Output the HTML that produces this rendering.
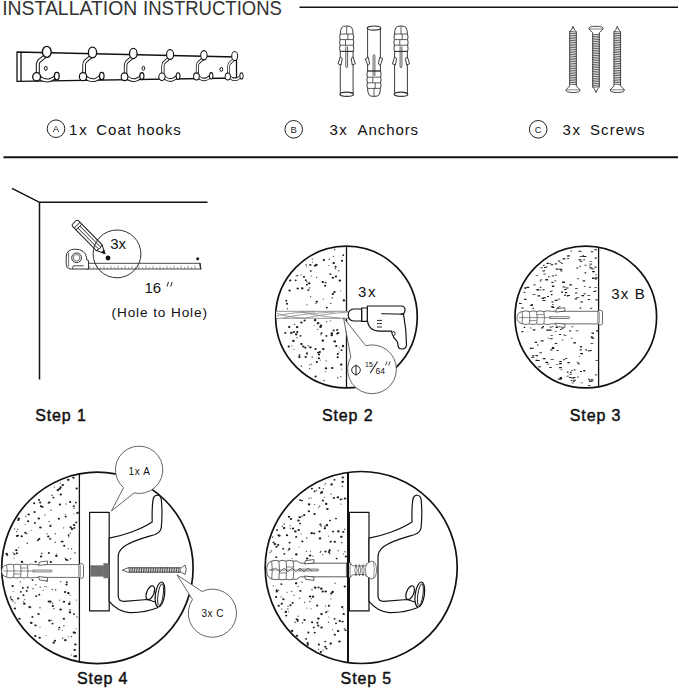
<!DOCTYPE html>
<html><head><meta charset="utf-8"><title>Installation Instructions</title>
<style>html,body{margin:0;padding:0;background:#fff;width:679px;height:689px;overflow:hidden}svg{display:block}text{font-family:"Liberation Sans",sans-serif}</style>
</head><body>
<svg width="679" height="689" viewBox="0 0 679 689">
<text x="2.2" y="14.6" font-size="19.3" fill="#333" textLength="135.1" lengthAdjust="spacingAndGlyphs">INSTALLATION</text>
<text x="143.1" y="14.6" font-size="19.3" fill="#333" textLength="138.8" lengthAdjust="spacingAndGlyphs">INSTRUCTIONS</text>
<line x1="299.5" y1="7.2" x2="678" y2="7.2" stroke="#111" stroke-width="1.5"/>
<line x1="3.5" y1="157.2" x2="678" y2="157.2" stroke="#111" stroke-width="1.9"/>
<circle cx="56" cy="128.7" r="8.8" fill="none" stroke="#222" stroke-width="1"/>
<text x="56" y="132.1" font-size="9.5" text-anchor="middle" fill="#222">A</text>
<circle cx="293.7" cy="129.3" r="8.8" fill="none" stroke="#222" stroke-width="1"/>
<text x="293.7" y="132.70000000000002" font-size="9.5" text-anchor="middle" fill="#222">B</text>
<circle cx="538.2" cy="129.3" r="8.8" fill="none" stroke="#222" stroke-width="1"/>
<text x="538.2" y="132.70000000000002" font-size="9.5" text-anchor="middle" fill="#222">C</text>
<text x="69" y="134.7" font-size="15" fill="#111" textLength="17.8" lengthAdjust="spacing">1x</text>
<text x="96.3" y="134.7" font-size="15" fill="#111" textLength="84.5" lengthAdjust="spacing">Coat hooks</text>
<text x="329.5" y="134.7" font-size="15" fill="#111" textLength="17.3" lengthAdjust="spacing">3x</text>
<text x="357.6" y="134.7" font-size="15" fill="#111" textLength="60.5" lengthAdjust="spacing">Anchors</text>
<text x="562.4" y="134.7" font-size="15" fill="#111" textLength="17.6" lengthAdjust="spacing">3x</text>
<text x="590" y="134.7" font-size="15" fill="#111" textLength="54.5" lengthAdjust="spacing">Screws</text>
<g fill="#fff" stroke="#111" stroke-width="1.3" stroke-linejoin="round">
<path d="M17 52 L236.5 57 L236.5 78 L17 81.3 Z"/>
<line x1="21" y1="52.1" x2="21" y2="81.2"/>
<ellipse cx="45.8" cy="68.4" rx="1.4" ry="2" stroke-width="1"/>
<ellipse cx="143.4" cy="68.3" rx="1.4" ry="2" stroke-width="1"/>
<ellipse cx="221.3" cy="69.4" rx="1.4" ry="2" stroke-width="1"/>
<g transform="translate(46.8,51.6) scale(1.0,1.0)">
<path d="M-1.5 4.5 L-7.6 9.3 C-8.6 10.3 -9 12 -9 14 L-9 22 C-8 28 -1 29.5 3 28.5 C6 27.5 8 26 9.5 24.5" fill="none" stroke="#111" stroke-width="4.0" stroke-linejoin="round"/>
<path d="M-1.5 4.5 L-7.6 9.3 C-8.6 10.3 -9 12 -9 14 L-9 22 C-8 28 -1 29.5 3 28.5 C6 27.5 8 26 9.5 24.5" fill="none" stroke="#fff" stroke-width="2.0" stroke-linejoin="round"/>
<ellipse cx="-10.2" cy="25.2" rx="3.9" ry="4.2" stroke-width="1.3"/>
<ellipse cx="10" cy="24.5" rx="2.4" ry="3.8" stroke-width="1.3"/>
<ellipse cx="0" cy="0.3" rx="4.4" ry="5.5" stroke-width="1.4"/>
</g>
<g transform="translate(92.5,52.2) scale(0.93,0.97)">
<path d="M-1.5 4.5 L-7.6 9.3 C-8.6 10.3 -9 12 -9 14 L-9 22 C-8 28 -1 29.5 3 28.5 C6 27.5 8 26 9.5 24.5" fill="none" stroke="#111" stroke-width="4.0" stroke-linejoin="round"/>
<path d="M-1.5 4.5 L-7.6 9.3 C-8.6 10.3 -9 12 -9 14 L-9 22 C-8 28 -1 29.5 3 28.5 C6 27.5 8 26 9.5 24.5" fill="none" stroke="#fff" stroke-width="2.0" stroke-linejoin="round"/>
<ellipse cx="-10.2" cy="25.2" rx="3.9" ry="4.2" stroke-width="1.3"/>
<ellipse cx="10" cy="24.5" rx="2.4" ry="3.8" stroke-width="1.3"/>
<ellipse cx="0" cy="0.3" rx="4.4" ry="5.5" stroke-width="1.4"/>
</g>
<g transform="translate(133.3,53.3) scale(0.86,0.93)">
<path d="M-1.5 4.5 L-7.6 9.3 C-8.6 10.3 -9 12 -9 14 L-9 22 C-8 28 -1 29.5 3 28.5 C6 27.5 8 26 9.5 24.5" fill="none" stroke="#111" stroke-width="4.0" stroke-linejoin="round"/>
<path d="M-1.5 4.5 L-7.6 9.3 C-8.6 10.3 -9 12 -9 14 L-9 22 C-8 28 -1 29.5 3 28.5 C6 27.5 8 26 9.5 24.5" fill="none" stroke="#fff" stroke-width="2.0" stroke-linejoin="round"/>
<ellipse cx="-10.2" cy="25.2" rx="3.9" ry="4.2" stroke-width="1.3"/>
<ellipse cx="10" cy="24.5" rx="2.4" ry="3.8" stroke-width="1.3"/>
<ellipse cx="0" cy="0.3" rx="4.4" ry="5.5" stroke-width="1.4"/>
</g>
<g transform="translate(170.1,54.3) scale(0.8,0.89)">
<path d="M-1.5 4.5 L-7.6 9.3 C-8.6 10.3 -9 12 -9 14 L-9 22 C-8 28 -1 29.5 3 28.5 C6 27.5 8 26 9.5 24.5" fill="none" stroke="#111" stroke-width="4.0" stroke-linejoin="round"/>
<path d="M-1.5 4.5 L-7.6 9.3 C-8.6 10.3 -9 12 -9 14 L-9 22 C-8 28 -1 29.5 3 28.5 C6 27.5 8 26 9.5 24.5" fill="none" stroke="#fff" stroke-width="2.0" stroke-linejoin="round"/>
<ellipse cx="-10.2" cy="25.2" rx="3.9" ry="4.2" stroke-width="1.3"/>
<ellipse cx="10" cy="24.5" rx="2.4" ry="3.8" stroke-width="1.3"/>
<ellipse cx="0" cy="0.3" rx="4.4" ry="5.5" stroke-width="1.4"/>
</g>
<g transform="translate(203.9,55.0) scale(0.73,0.85)">
<path d="M-1.5 4.5 L-7.6 9.3 C-8.6 10.3 -9 12 -9 14 L-9 22 C-8 28 -1 29.5 3 28.5 C6 27.5 8 26 9.5 24.5" fill="none" stroke="#111" stroke-width="4.0" stroke-linejoin="round"/>
<path d="M-1.5 4.5 L-7.6 9.3 C-8.6 10.3 -9 12 -9 14 L-9 22 C-8 28 -1 29.5 3 28.5 C6 27.5 8 26 9.5 24.5" fill="none" stroke="#fff" stroke-width="2.0" stroke-linejoin="round"/>
<ellipse cx="-10.2" cy="25.2" rx="3.9" ry="4.2" stroke-width="1.3"/>
<ellipse cx="10" cy="24.5" rx="2.4" ry="3.8" stroke-width="1.3"/>
<ellipse cx="0" cy="0.3" rx="4.4" ry="5.5" stroke-width="1.4"/>
</g>
<g transform="translate(234.7,55.8) scale(0.68,0.82)">
<path d="M-1.5 4.5 L-7.6 9.3 C-8.6 10.3 -9 12 -9 14 L-9 22 C-8 28 -1 29.5 3 28.5 C6 27.5 8 26 9.5 24.5" fill="none" stroke="#111" stroke-width="4.0" stroke-linejoin="round"/>
<path d="M-1.5 4.5 L-7.6 9.3 C-8.6 10.3 -9 12 -9 14 L-9 22 C-8 28 -1 29.5 3 28.5 C6 27.5 8 26 9.5 24.5" fill="none" stroke="#fff" stroke-width="2.0" stroke-linejoin="round"/>
<ellipse cx="-10.2" cy="25.2" rx="3.9" ry="4.2" stroke-width="1.3"/>
<ellipse cx="10" cy="24.5" rx="2.4" ry="3.8" stroke-width="1.3"/>
<ellipse cx="0" cy="0.3" rx="4.4" ry="5.5" stroke-width="1.4"/>
</g>
</g>
<g transform="translate(346.7,0)" fill="#fff" stroke="#333" stroke-width="0.95" stroke-linejoin="round">
<path d="M-6.4 51 L-6.4 93.5 M6.4 51 L6.4 93.5" fill="none"/>
<ellipse cx="0" cy="94.3" rx="6.8" ry="2.1" stroke-width="1.2"/>
<path d="M-6.5 51.5 Q-7.6 48.3 -6.6 45.2 Q-7.6 42.4 -6.6 39.6 Q-7.6 36.8 -6.4 34 Q-6.4 30 -5 27.5 Q-4 26 0 26 Q4 26 5 27.5 Q6.4 30 6.4 34 Q7.6 36.8 6.6 39.6 Q7.6 42.4 6.6 45.2 Q7.6 48.3 6.5 51.5 Z"/>
<path d="M-6.3 34 L6.3 34 M-6.6 39.6 L6.6 39.6 M-6.6 45.2 L6.6 45.2 M-6.5 51.3 L6.5 51.3 M0 26.3 L0 34 M-1.2 39.6 L-1.2 45.2 M1.2 34 L1.2 39.6" fill="none" stroke-width="0.8"/>
<path d="M-6.4 57 L-8.6 63.8 L-5.6 65 L-4.4 58.4 Z M6.4 57 L8.6 63.8 L5.6 65 L4.4 58.4 Z"/>
<path d="M-0.9 46.4 L-0.9 67 Q0 68.6 0.9 67 L0.9 46.4" fill="none" stroke-width="0.8"/>
</g>
<g transform="translate(374,122.4) scale(1,-1)" fill="#fff" stroke="#333" stroke-width="0.95" stroke-linejoin="round">
<path d="M-6.4 51 L-6.4 93.5 M6.4 51 L6.4 93.5" fill="none"/>
<ellipse cx="0" cy="94.3" rx="6.8" ry="2.1" stroke-width="1.2"/>
<path d="M-6.5 51.5 Q-7.6 48.3 -6.6 45.2 Q-7.6 42.4 -6.6 39.6 Q-7.6 36.8 -6.4 34 Q-6.4 30 -5 27.5 Q-4 26 0 26 Q4 26 5 27.5 Q6.4 30 6.4 34 Q7.6 36.8 6.6 39.6 Q7.6 42.4 6.6 45.2 Q7.6 48.3 6.5 51.5 Z"/>
<path d="M-6.3 34 L6.3 34 M-6.6 39.6 L6.6 39.6 M-6.6 45.2 L6.6 45.2 M-6.5 51.3 L6.5 51.3 M0 26.3 L0 34 M-1.2 39.6 L-1.2 45.2 M1.2 34 L1.2 39.6" fill="none" stroke-width="0.8"/>
<path d="M-6.4 57 L-8.6 63.8 L-5.6 65 L-4.4 58.4 Z M6.4 57 L8.6 63.8 L5.6 65 L4.4 58.4 Z"/>
<path d="M-0.9 46.4 L-0.9 67 Q0 68.6 0.9 67 L0.9 46.4" fill="none" stroke-width="0.8"/>
</g>
<g transform="translate(401,0)" fill="#fff" stroke="#333" stroke-width="0.95" stroke-linejoin="round">
<path d="M-6.4 51 L-6.4 93.5 M6.4 51 L6.4 93.5" fill="none"/>
<ellipse cx="0" cy="94.3" rx="6.8" ry="2.1" stroke-width="1.2"/>
<path d="M-6.5 51.5 Q-7.6 48.3 -6.6 45.2 Q-7.6 42.4 -6.6 39.6 Q-7.6 36.8 -6.4 34 Q-6.4 30 -5 27.5 Q-4 26 0 26 Q4 26 5 27.5 Q6.4 30 6.4 34 Q7.6 36.8 6.6 39.6 Q7.6 42.4 6.6 45.2 Q7.6 48.3 6.5 51.5 Z"/>
<path d="M-6.3 34 L6.3 34 M-6.6 39.6 L6.6 39.6 M-6.6 45.2 L6.6 45.2 M-6.5 51.3 L6.5 51.3 M0 26.3 L0 34 M-1.2 39.6 L-1.2 45.2 M1.2 34 L1.2 39.6" fill="none" stroke-width="0.8"/>
<path d="M-6.4 57 L-8.6 63.8 L-5.6 65 L-4.4 58.4 Z M6.4 57 L8.6 63.8 L5.6 65 L4.4 58.4 Z"/>
<path d="M-0.9 46.4 L-0.9 67 Q0 68.6 0.9 67 L0.9 46.4" fill="none" stroke-width="0.8"/>
</g>
<g transform="translate(573,0)" fill="#fff" stroke="#333" stroke-width="0.9">
<path d="M0 26.3 L-1.6 30 L-3.3 31.5 L-3.3 86 L-7 89.8 Q-7.5 92.5 0 92.5 Q7.5 92.5 7 89.8 L3.3 86 L3.3 31.5 L1.6 30 Z"/>
<path d="M-3.6 31.5 L3.6 32.1 M-3.6 33.2 L3.6 33.9 M-3.6 35.0 L3.6 35.6 M-3.6 36.8 L3.6 37.4 M-3.6 38.5 L3.6 39.1 M-3.6 40.2 L3.6 40.9 M-3.6 42.0 L3.6 42.6 M-3.6 43.8 L3.6 44.4 M-3.6 45.5 L3.6 46.1 M-3.6 47.2 L3.6 47.9 M-3.6 49.0 L3.6 49.6 M-3.6 50.8 L3.6 51.4 M-3.6 52.5 L3.6 53.1 M-3.6 54.2 L3.6 54.9 M-3.6 56.0 L3.6 56.6 M-3.6 57.8 L3.6 58.4 M-3.6 59.5 L3.6 60.1 M-3.6 61.2 L3.6 61.9 M-3.6 63.0 L3.6 63.6 M-3.6 64.8 L3.6 65.3 M-3.6 66.5 L3.6 67.1 M-3.6 68.2 L3.6 68.8 M-3.6 70.0 L3.6 70.6 M-3.6 71.8 L3.6 72.3 M-3.6 73.5 L3.6 74.1 M-3.6 75.2 L3.6 75.8 M-3.6 77.0 L3.6 77.6 M-3.6 78.8 L3.6 79.3 M-3.6 80.5 L3.6 81.1 M-3.6 82.2 L3.6 82.8 M-3.6 84.0 L3.6 84.6 " stroke-width="0.8"/>
<path d="M-7 89.8 L7 89.8" stroke-width="0.6"/>
</g>
<g transform="translate(596,118.8) scale(1,-1)" fill="#fff" stroke="#333" stroke-width="0.9">
<path d="M0 26.3 L-1.6 30 L-3.3 31.5 L-3.3 86 L-7 89.8 Q-7.5 92.5 0 92.5 Q7.5 92.5 7 89.8 L3.3 86 L3.3 31.5 L1.6 30 Z"/>
<path d="M-3.6 31.5 L3.6 32.1 M-3.6 33.2 L3.6 33.9 M-3.6 35.0 L3.6 35.6 M-3.6 36.8 L3.6 37.4 M-3.6 38.5 L3.6 39.1 M-3.6 40.2 L3.6 40.9 M-3.6 42.0 L3.6 42.6 M-3.6 43.8 L3.6 44.4 M-3.6 45.5 L3.6 46.1 M-3.6 47.2 L3.6 47.9 M-3.6 49.0 L3.6 49.6 M-3.6 50.8 L3.6 51.4 M-3.6 52.5 L3.6 53.1 M-3.6 54.2 L3.6 54.9 M-3.6 56.0 L3.6 56.6 M-3.6 57.8 L3.6 58.4 M-3.6 59.5 L3.6 60.1 M-3.6 61.2 L3.6 61.9 M-3.6 63.0 L3.6 63.6 M-3.6 64.8 L3.6 65.3 M-3.6 66.5 L3.6 67.1 M-3.6 68.2 L3.6 68.8 M-3.6 70.0 L3.6 70.6 M-3.6 71.8 L3.6 72.3 M-3.6 73.5 L3.6 74.1 M-3.6 75.2 L3.6 75.8 M-3.6 77.0 L3.6 77.6 M-3.6 78.8 L3.6 79.3 M-3.6 80.5 L3.6 81.1 M-3.6 82.2 L3.6 82.8 M-3.6 84.0 L3.6 84.6 " stroke-width="0.8"/>
<path d="M-7 89.8 L7 89.8" stroke-width="0.6"/>
</g>
<g transform="translate(617.3,0)" fill="#fff" stroke="#333" stroke-width="0.9">
<path d="M0 26.3 L-1.6 30 L-3.3 31.5 L-3.3 86 L-7 89.8 Q-7.5 92.5 0 92.5 Q7.5 92.5 7 89.8 L3.3 86 L3.3 31.5 L1.6 30 Z"/>
<path d="M-3.6 31.5 L3.6 32.1 M-3.6 33.2 L3.6 33.9 M-3.6 35.0 L3.6 35.6 M-3.6 36.8 L3.6 37.4 M-3.6 38.5 L3.6 39.1 M-3.6 40.2 L3.6 40.9 M-3.6 42.0 L3.6 42.6 M-3.6 43.8 L3.6 44.4 M-3.6 45.5 L3.6 46.1 M-3.6 47.2 L3.6 47.9 M-3.6 49.0 L3.6 49.6 M-3.6 50.8 L3.6 51.4 M-3.6 52.5 L3.6 53.1 M-3.6 54.2 L3.6 54.9 M-3.6 56.0 L3.6 56.6 M-3.6 57.8 L3.6 58.4 M-3.6 59.5 L3.6 60.1 M-3.6 61.2 L3.6 61.9 M-3.6 63.0 L3.6 63.6 M-3.6 64.8 L3.6 65.3 M-3.6 66.5 L3.6 67.1 M-3.6 68.2 L3.6 68.8 M-3.6 70.0 L3.6 70.6 M-3.6 71.8 L3.6 72.3 M-3.6 73.5 L3.6 74.1 M-3.6 75.2 L3.6 75.8 M-3.6 77.0 L3.6 77.6 M-3.6 78.8 L3.6 79.3 M-3.6 80.5 L3.6 81.1 M-3.6 82.2 L3.6 82.8 M-3.6 84.0 L3.6 84.6 " stroke-width="0.8"/>
<path d="M-7 89.8 L7 89.8" stroke-width="0.6"/>
</g>
<g fill="none" stroke="#111" stroke-width="1.5">
<path d="M12 188.3 L39.5 202.3 L207.5 202.3 M39.5 202.3 L39.5 379.5"/>
</g>
<g stroke="#333" stroke-width="0.8" fill="#fff">
<path d="M86 263.3 L200 263.3 L200.5 269 L86 269" stroke-width="0.9"/>
<path d="M90.0 269 v-3.3 M93.5 269 v-2.0 M97.0 269 v-3.3 M100.5 269 v-2.0 M104.0 269 v-3.3 M107.5 269 v-2.0 M111.0 269 v-3.3 M114.5 269 v-2.0 M118.0 269 v-3.3 M121.5 269 v-2.0 M125.0 269 v-3.3 M128.5 269 v-2.0 M132.0 269 v-3.3 M135.5 269 v-2.0 M139.0 269 v-3.3 M142.5 269 v-2.0 M146.0 269 v-3.3 M149.5 269 v-2.0 M153.0 269 v-3.3 M156.5 269 v-2.0 M160.0 269 v-3.3 M163.5 269 v-2.0 M167.0 269 v-3.3 M170.5 269 v-2.0 M174.0 269 v-3.3 M177.5 269 v-2.0 M181.0 269 v-3.3 M184.5 269 v-2.0 M188.0 269 v-3.3 M191.5 269 v-2.0 M195.0 269 v-3.3 " stroke-width="0.6" stroke="#666"/>
<path d="M200 263 L200.8 269.5" stroke-width="1.4"/>
<path d="M66.2 257 Q66.2 249.2 75 249.2 Q85.5 249.2 86.7 258 L86.7 260 L88.5 260.5 L88.5 269 L70 269 Q66.2 268.5 66.2 264 Z" stroke-width="1"/>
<path d="M68.6 252.5 L68.6 266.5" stroke-width="0.7" fill="none"/>
<circle cx="76.6" cy="257.8" r="4.9" stroke-width="1"/>
<circle cx="76.6" cy="257.8" r="3.3" stroke-width="0.7"/>
<path d="M83.6 265.8 L74 265.8 Q72.6 265.8 72.6 267.5 L72.6 269" stroke-width="0.9" fill="none"/>
</g>
<g transform="translate(104.8,253.4) rotate(-134.5)" stroke="#1a1a1a" stroke-width="1" fill="#fff">
<path d="M0 0 L8 -4.1 L41.5 -4.1 Q43.5 -4.1 43.5 -2.3 L43.5 2.3 Q43.5 4.1 41.5 4.1 L8 4.1 Z"/>
<path d="M8 -4.1 Q6 0 8 4.1 M37 -4.1 L37 4.1 M39.5 -4.1 L39.5 4.1 M8 -1.4 L37 -1.4 M8 1.4 L37 1.4" fill="none" stroke-width="0.9"/>
<path d="M0 0 L2.8 -1.5 L2.8 1.5 Z" fill="#1a1a1a"/>
</g>
<circle cx="117" cy="253.9" r="23.9" fill="none" stroke="#333" stroke-width="1"/>
<circle cx="108" cy="258" r="2.4" fill="#111"/>
<circle cx="197.7" cy="258.7" r="1.5" fill="#111"/>
<text x="110.2" y="248.7" font-size="15" fill="#111">3x</text>
<text x="144.5" y="293" font-size="15" fill="#111">16</text>
<path d="M168.5 282 L167 286.5 M172.2 282 L170.7 286.5" stroke="#222" stroke-width="1"/>
<text x="111.5" y="317.4" font-size="13.6" fill="#111" textLength="95.5" lengthAdjust="spacing">(Hole to Hole)</text>
<path d="M296.2 332.0a1.1 0.94 0 1 0 2.2 0a1.1 0.94 0 1 0 -2.2 0M330.9 368.0a1.3 1.10 0 1 0 2.6 0a1.3 1.10 0 1 0 -2.6 0M314.5 376.5a1.1 0.94 0 1 0 2.2 0a1.1 0.94 0 1 0 -2.2 0M336.1 333.5a1.2 1.02 0 1 0 2.4 0a1.2 1.02 0 1 0 -2.4 0M341.7 346.2a1.3 1.10 0 1 0 2.6 0a1.3 1.10 0 1 0 -2.6 0M336.6 357.3a1.1 0.94 0 1 0 2.2 0a1.1 0.94 0 1 0 -2.2 0M304.3 347.7a1.1 0.94 0 1 0 2.2 0a1.1 0.94 0 1 0 -2.2 0M340.5 350.2a1.0 0.85 0 1 0 2.0 0a1.0 0.85 0 1 0 -2.0 0M318.6 352.1a1.2 1.02 0 1 0 2.4 0a1.2 1.02 0 1 0 -2.4 0M335.1 346.1a1.2 1.02 0 1 0 2.4 0a1.2 1.02 0 1 0 -2.4 0M315.6 301.8a1.2 1.02 0 1 0 2.4 0a1.2 1.02 0 1 0 -2.4 0M292.8 332.0a1.1 0.94 0 1 0 2.2 0a1.1 0.94 0 1 0 -2.2 0M321.5 282.0a1.3 1.10 0 1 0 2.6 0a1.3 1.10 0 1 0 -2.6 0M324.6 282.5a1.0 0.85 0 1 0 2.0 0a1.0 0.85 0 1 0 -2.0 0M285.3 300.7a1.0 0.85 0 1 0 2.0 0a1.0 0.85 0 1 0 -2.0 0M307.2 290.1a1.1 0.94 0 1 0 2.2 0a1.1 0.94 0 1 0 -2.2 0M325.9 307.6a1.0 0.85 0 1 0 2.0 0a1.0 0.85 0 1 0 -2.0 0M300.1 344.0a1.3 1.10 0 1 0 2.6 0a1.3 1.10 0 1 0 -2.6 0M333.5 341.4a1.3 1.10 0 1 0 2.6 0a1.3 1.10 0 1 0 -2.6 0M337.0 333.1a1.2 1.02 0 1 0 2.4 0a1.2 1.02 0 1 0 -2.4 0M288.0 327.1a1.2 1.02 0 1 0 2.4 0a1.2 1.02 0 1 0 -2.4 0M339.9 364.6a1.3 1.10 0 1 0 2.6 0a1.3 1.10 0 1 0 -2.6 0M315.8 362.0a1.1 0.94 0 1 0 2.2 0a1.1 0.94 0 1 0 -2.2 0M302.0 346.5a1.1 0.94 0 1 0 2.2 0a1.1 0.94 0 1 0 -2.2 0M302.9 276.9a1.1 0.94 0 1 0 2.2 0a1.1 0.94 0 1 0 -2.2 0M284.2 332.9a1.1 0.94 0 1 0 2.2 0a1.1 0.94 0 1 0 -2.2 0M300.2 322.4a1.2 1.02 0 1 0 2.4 0a1.2 1.02 0 1 0 -2.4 0M330.5 335.2a1.3 1.10 0 1 0 2.6 0a1.3 1.10 0 1 0 -2.6 0M313.8 320.2a1.3 1.10 0 1 0 2.6 0a1.3 1.10 0 1 0 -2.6 0M334.7 276.5a1.2 1.02 0 1 0 2.4 0a1.2 1.02 0 1 0 -2.4 0M294.9 334.3a1.3 1.10 0 1 0 2.6 0a1.3 1.10 0 1 0 -2.6 0M336.7 354.0a1.1 0.94 0 1 0 2.2 0a1.1 0.94 0 1 0 -2.2 0M332.6 330.4a1.1 0.94 0 1 0 2.2 0a1.1 0.94 0 1 0 -2.2 0M287.6 346.4a1.2 1.02 0 1 0 2.4 0a1.2 1.02 0 1 0 -2.4 0M305.9 284.7a1.0 0.85 0 1 0 2.0 0a1.0 0.85 0 1 0 -2.0 0M298.4 355.0a1.0 0.85 0 1 0 2.0 0a1.0 0.85 0 1 0 -2.0 0M303.5 320.5a1.1 0.94 0 1 0 2.2 0a1.1 0.94 0 1 0 -2.2 0M309.8 271.0a1.0 0.85 0 1 0 2.0 0a1.0 0.85 0 1 0 -2.0 0M292.1 340.9a1.3 1.10 0 1 0 2.6 0a1.3 1.10 0 1 0 -2.6 0M313.9 265.8a1.1 0.94 0 1 0 2.2 0a1.1 0.94 0 1 0 -2.2 0M331.7 294.0a1.2 1.02 0 1 0 2.4 0a1.2 1.02 0 1 0 -2.4 0M309.2 264.9a1.1 0.94 0 1 0 2.2 0a1.1 0.94 0 1 0 -2.2 0M330.5 333.4a1.3 1.10 0 1 0 2.6 0a1.3 1.10 0 1 0 -2.6 0M300.9 288.3a1.3 1.10 0 1 0 2.6 0a1.3 1.10 0 1 0 -2.6 0M296.5 288.6a1.2 1.02 0 1 0 2.4 0a1.2 1.02 0 1 0 -2.4 0M317.0 352.6a1.0 0.85 0 1 0 2.0 0a1.0 0.85 0 1 0 -2.0 0M342.6 300.4a1.3 1.10 0 1 0 2.6 0a1.3 1.10 0 1 0 -2.6 0M306.0 353.2a1.0 0.85 0 1 0 2.0 0a1.0 0.85 0 1 0 -2.0 0M288.4 290.5a1.2 1.02 0 1 0 2.4 0a1.2 1.02 0 1 0 -2.4 0M315.1 264.9a1.3 1.10 0 1 0 2.6 0a1.3 1.10 0 1 0 -2.6 0M325.4 335.9a1.0 0.85 0 1 0 2.0 0a1.0 0.85 0 1 0 -2.0 0M336.1 329.9a1.1 0.94 0 1 0 2.2 0a1.1 0.94 0 1 0 -2.2 0M319.7 325.7a1.3 1.10 0 1 0 2.6 0a1.3 1.10 0 1 0 -2.6 0M332.4 263.1a1.3 1.10 0 1 0 2.6 0a1.3 1.10 0 1 0 -2.6 0M294.7 280.3a1.0 0.85 0 1 0 2.0 0a1.0 0.85 0 1 0 -2.0 0M316.8 323.2a1.3 1.10 0 1 0 2.6 0a1.3 1.10 0 1 0 -2.6 0M324.0 285.8a1.1 0.94 0 1 0 2.2 0a1.1 0.94 0 1 0 -2.2 0M289.0 280.4a1.2 1.02 0 1 0 2.4 0a1.2 1.02 0 1 0 -2.4 0M340.9 260.7a1.1 0.94 0 1 0 2.2 0a1.1 0.94 0 1 0 -2.2 0M322.7 260.0a1.2 1.02 0 1 0 2.4 0a1.2 1.02 0 1 0 -2.4 0M324.7 368.3a1.3 1.10 0 1 0 2.6 0a1.3 1.10 0 1 0 -2.6 0M304.8 280.2a1.0 0.85 0 1 0 2.0 0a1.0 0.85 0 1 0 -2.0 0M338.6 280.6a1.3 1.10 0 1 0 2.6 0a1.3 1.10 0 1 0 -2.6 0M304.5 357.0a1.2 1.02 0 1 0 2.4 0a1.2 1.02 0 1 0 -2.4 0M334.5 266.8a1.1 0.94 0 1 0 2.2 0a1.1 0.94 0 1 0 -2.2 0M319.2 326.9a1.3 1.10 0 1 0 2.6 0a1.3 1.10 0 1 0 -2.6 0M299.5 335.8a1.0 0.85 0 1 0 2.0 0a1.0 0.85 0 1 0 -2.0 0M307.9 283.3a1.3 1.10 0 1 0 2.6 0a1.3 1.10 0 1 0 -2.6 0M317.8 354.6a1.2 1.02 0 1 0 2.4 0a1.2 1.02 0 1 0 -2.4 0M321.5 340.7a1.3 1.10 0 1 0 2.6 0a1.3 1.10 0 1 0 -2.6 0M333.3 291.9a1.2 1.02 0 1 0 2.4 0a1.2 1.02 0 1 0 -2.4 0M309.1 347.3a1.3 1.10 0 1 0 2.6 0a1.3 1.10 0 1 0 -2.6 0M320.4 333.1a1.1 0.94 0 1 0 2.2 0a1.1 0.94 0 1 0 -2.2 0M290.0 332.9a1.3 1.10 0 1 0 2.6 0a1.3 1.10 0 1 0 -2.6 0M314.5 349.0a1.1 0.94 0 1 0 2.2 0a1.1 0.94 0 1 0 -2.2 0M285.9 303.7a1.1 0.94 0 1 0 2.2 0a1.1 0.94 0 1 0 -2.2 0M322.0 349.1a1.3 1.10 0 1 0 2.6 0a1.3 1.10 0 1 0 -2.6 0M317.8 358.2a1.1 0.94 0 1 0 2.2 0a1.1 0.94 0 1 0 -2.2 0M329.4 274.1a1.0 0.85 0 1 0 2.0 0a1.0 0.85 0 1 0 -2.0 0M295.8 327.1a1.3 1.10 0 1 0 2.6 0a1.3 1.10 0 1 0 -2.6 0M342.2 255.1a1.0 0.85 0 1 0 2.0 0a1.0 0.85 0 1 0 -2.0 0M298.2 357.1a1.2 1.02 0 1 0 2.4 0a1.2 1.02 0 1 0 -2.4 0M331.7 277.7a1.2 1.02 0 1 0 2.4 0a1.2 1.02 0 1 0 -2.4 0" fill="#1e1e1e"/>
<path d="M306.3 304.9a0.7 0.7 0 1 0 1.4 0a0.7 0.7 0 1 0 -1.4 0M296.8 275.6a0.8 0.8 0 1 0 1.6 0a0.8 0.8 0 1 0 -1.6 0M328.1 265.5a0.6 0.6 0 1 0 1.2 0a0.6 0.6 0 1 0 -1.2 0M306.5 354.7a0.7 0.7 0 1 0 1.4 0a0.7 0.7 0 1 0 -1.4 0M333.8 249.6a0.8 0.8 0 1 0 1.6 0a0.8 0.8 0 1 0 -1.6 0M306.1 281.7a0.8 0.8 0 1 0 1.6 0a0.8 0.8 0 1 0 -1.6 0M336.9 377.7a0.8 0.8 0 1 0 1.6 0a0.8 0.8 0 1 0 -1.6 0M331.3 298.1a0.8 0.8 0 1 0 1.6 0a0.8 0.8 0 1 0 -1.6 0M310.0 296.8a0.7 0.7 0 1 0 1.4 0a0.7 0.7 0 1 0 -1.4 0M309.0 368.8a0.7 0.7 0 1 0 1.4 0a0.7 0.7 0 1 0 -1.4 0M317.0 323.9a0.6 0.6 0 1 0 1.2 0a0.6 0.6 0 1 0 -1.2 0M311.8 262.1a0.7 0.7 0 1 0 1.4 0a0.7 0.7 0 1 0 -1.4 0M307.3 345.8a0.8 0.8 0 1 0 1.6 0a0.8 0.8 0 1 0 -1.6 0M325.5 360.9a0.7 0.7 0 1 0 1.4 0a0.7 0.7 0 1 0 -1.4 0M303.4 346.8a0.7 0.7 0 1 0 1.4 0a0.7 0.7 0 1 0 -1.4 0M326.0 321.7a0.7 0.7 0 1 0 1.4 0a0.7 0.7 0 1 0 -1.4 0M325.1 371.3a0.6 0.6 0 1 0 1.2 0a0.6 0.6 0 1 0 -1.2 0M309.1 364.7a0.7 0.7 0 1 0 1.4 0a0.7 0.7 0 1 0 -1.4 0M340.0 376.8a0.7 0.7 0 1 0 1.4 0a0.7 0.7 0 1 0 -1.4 0M330.0 303.5a0.8 0.8 0 1 0 1.6 0a0.8 0.8 0 1 0 -1.6 0M310.0 265.1a0.7 0.7 0 1 0 1.4 0a0.7 0.7 0 1 0 -1.4 0M296.3 337.7a0.7 0.7 0 1 0 1.4 0a0.7 0.7 0 1 0 -1.4 0M310.8 276.0a0.6 0.6 0 1 0 1.2 0a0.6 0.6 0 1 0 -1.2 0M286.6 308.8a0.8 0.8 0 1 0 1.6 0a0.8 0.8 0 1 0 -1.6 0M322.8 299.1a0.6 0.6 0 1 0 1.2 0a0.6 0.6 0 1 0 -1.2 0M293.7 324.2a0.8 0.8 0 1 0 1.6 0a0.8 0.8 0 1 0 -1.6 0M323.4 380.5a0.8 0.8 0 1 0 1.6 0a0.8 0.8 0 1 0 -1.6 0M340.0 290.8a0.6 0.6 0 1 0 1.2 0a0.6 0.6 0 1 0 -1.2 0M300.4 274.8a0.6 0.6 0 1 0 1.2 0a0.6 0.6 0 1 0 -1.2 0M317.0 329.5a0.7 0.7 0 1 0 1.4 0a0.7 0.7 0 1 0 -1.4 0M338.7 347.8a0.6 0.6 0 1 0 1.2 0a0.6 0.6 0 1 0 -1.2 0M311.0 364.2a0.6 0.6 0 1 0 1.2 0a0.6 0.6 0 1 0 -1.2 0M291.2 345.8a0.6 0.6 0 1 0 1.2 0a0.6 0.6 0 1 0 -1.2 0M320.3 334.8a0.7 0.7 0 1 0 1.4 0a0.7 0.7 0 1 0 -1.4 0M328.5 259.3a0.8 0.8 0 1 0 1.6 0a0.8 0.8 0 1 0 -1.6 0M295.5 275.8a0.7 0.7 0 1 0 1.4 0a0.7 0.7 0 1 0 -1.4 0M293.4 349.3a0.6 0.6 0 1 0 1.2 0a0.6 0.6 0 1 0 -1.2 0M305.2 264.4a0.7 0.7 0 1 0 1.4 0a0.7 0.7 0 1 0 -1.4 0M290.5 333.4a0.8 0.8 0 1 0 1.6 0a0.8 0.8 0 1 0 -1.6 0M340.8 369.3a0.6 0.6 0 1 0 1.2 0a0.6 0.6 0 1 0 -1.2 0M332.8 256.4a0.7 0.7 0 1 0 1.4 0a0.7 0.7 0 1 0 -1.4 0M311.4 357.0a0.8 0.8 0 1 0 1.6 0a0.8 0.8 0 1 0 -1.6 0M305.7 266.0a0.7 0.7 0 1 0 1.4 0a0.7 0.7 0 1 0 -1.4 0M333.2 341.5a0.6 0.6 0 1 0 1.2 0a0.6 0.6 0 1 0 -1.2 0M315.9 277.5a0.7 0.7 0 1 0 1.4 0a0.7 0.7 0 1 0 -1.4 0M300.5 366.1a0.8 0.8 0 1 0 1.6 0a0.8 0.8 0 1 0 -1.6 0M334.6 268.8a0.7 0.7 0 1 0 1.4 0a0.7 0.7 0 1 0 -1.4 0M338.2 352.0a0.6 0.6 0 1 0 1.2 0a0.6 0.6 0 1 0 -1.2 0M311.6 259.0a0.7 0.7 0 1 0 1.4 0a0.7 0.7 0 1 0 -1.4 0M337.9 270.8a0.8 0.8 0 1 0 1.6 0a0.8 0.8 0 1 0 -1.6 0M315.1 303.5a0.7 0.7 0 1 0 1.4 0a0.7 0.7 0 1 0 -1.4 0M330.1 320.8a0.6 0.6 0 1 0 1.2 0a0.6 0.6 0 1 0 -1.2 0M313.5 325.5a0.6 0.6 0 1 0 1.2 0a0.6 0.6 0 1 0 -1.2 0M319.7 360.1a0.6 0.6 0 1 0 1.2 0a0.6 0.6 0 1 0 -1.2 0M308.7 288.0a0.8 0.8 0 1 0 1.6 0a0.8 0.8 0 1 0 -1.6 0" fill="#555"/>
<circle cx="346.45" cy="317" r="70.8" fill="none" stroke="#111" stroke-width="1.7"/>
<line x1="346.5" y1="246.2" x2="346.5" y2="387.8" stroke="#111" stroke-width="1.3"/>
<g stroke="#777" stroke-width="0.8" fill="#fff">
<path d="M276 311.3 L348.6 311.3 L348.6 318.3 L276 318.3" />
<path d="M276 316 C290 313 300 312 315 312 M283 318 C300 314 318 313 335 312 M305 318 C320 315 335 313 348 312 M276 313 C285 316 295 318 305 318 M300 311.5 C310 314 325 317 340 318" stroke-width="0.7" fill="none"/>
</g>
<g stroke="#111" stroke-width="1.2" fill="#fff" stroke-linejoin="round">
<path d="M367.3 306 L401 306 Q405 306 405 310 Q405 314.2 401 314.2 L403.5 314.2 Q406.5 330 406.5 345 Q406 349 402 349 Q398 349 398 345 Q398 341 394 338 L391.5 331.2 L380 331.2 Q367.3 331 367.3 318 Z"/>
<path d="M381.2 313.7 L403.4 314.2" stroke-width="1"/>
<path d="M361.6 308 L367.3 308 L367.3 321.4 L361.6 321.4 Z"/>
<path d="M361.6 309 L354 309 Q348.2 309.5 348.2 315 Q348.2 320.5 354 321 L361.6 321 Z"/>
<path d="M377 320.4 L382 320.4 M377 323.6 L382 323.6 M377 327 L382 327" stroke-width="0.9"/>
<ellipse cx="393.6" cy="333.5" rx="1.5" ry="2" stroke-width="0.9"/>
</g>
<text x="358" y="296.7" font-size="15" fill="#111" textLength="17.5" lengthAdjust="spacing">3x</text>
<path d="M343.5 317.8 L365.78 345.70 A24.4 24.4 0 1 1 350.84 357.15 Z" fill="#fff" stroke="#555" stroke-width="0.9"/>
<circle cx="356" cy="370.1" r="4.3" fill="none" stroke="#222" stroke-width="1"/>
<line x1="356" y1="364.5" x2="356" y2="375.7" stroke="#222" stroke-width="1"/>
<text x="365" y="366.5" font-size="7" fill="#111">15</text>
<line x1="370.3" y1="373" x2="377.6" y2="361.5" stroke="#222" stroke-width="1.1"/>
<text x="375.5" y="373.6" font-size="8.5" fill="#111">64</text>
<path d="M387 361.6 L385.6 365.4 M390 361.6 L388.6 365.4" stroke="#222" stroke-width="0.9"/>
<path d="M566.9 255.5h2.8v1.1h-2.8zM530.9 347.7h2.8v1.1h-2.8zM564.1 288.9h2.4v1.1h-2.4zM550.4 349.3h2.0v1.1h-2.0zM547.0 295.9h2.0v1.1h-2.0zM562.6 286.5h2.8v0.9h-2.8zM521.4 331.1h2.0v1.1h-2.0zM543.2 297.2h2.8v1.1h-2.8zM557.1 307.3h2.0v1.1h-2.0zM536.4 289.1h2.8v1.3h-2.8zM546.3 329.6h2.4v1.1h-2.4zM591.1 332.4h2.8v0.9h-2.8zM594.3 249.2h2.8v1.1h-2.8zM541.6 297.7h2.4v1.3h-2.4zM580.3 261.0h2.0v1.1h-2.0zM569.3 284.3h2.8v1.3h-2.8zM594.7 257.5h2.0v1.3h-2.0zM584.6 272.2h1.6v1.3h-1.6zM537.5 295.2h2.8v1.3h-2.8zM592.0 277.6h2.4v1.3h-2.4zM572.6 377.0h2.8v1.3h-2.8zM554.9 263.3h2.0v1.3h-2.0zM555.5 327.0h2.4v0.9h-2.4zM555.7 268.4h2.8v1.3h-2.8zM550.6 264.3h2.8v0.9h-2.8zM533.1 284.4h2.8v0.9h-2.8zM588.0 378.8h2.4v0.9h-2.4zM570.0 371.8h1.6v1.3h-1.6zM559.2 361.1h2.8v0.9h-2.8zM563.1 359.3h2.0v0.9h-2.0zM573.1 379.7h2.8v1.1h-2.8zM549.5 326.7h2.8v0.9h-2.8zM589.5 267.3h2.8v1.3h-2.8zM551.8 348.0h2.4v0.9h-2.4zM549.3 367.1h2.4v0.9h-2.4zM537.3 360.1h2.4v0.9h-2.4zM580.0 371.1h2.0v0.9h-2.0zM579.4 265.7h1.6v1.1h-1.6zM590.8 251.3h2.4v0.9h-2.4zM542.5 300.0h2.8v1.1h-2.8zM521.3 307.5h2.4v0.9h-2.4zM573.2 342.3h2.8v1.1h-2.8zM570.6 379.9h1.6v1.1h-1.6zM571.3 326.4h2.0v0.9h-2.0zM591.4 337.5h2.8v1.3h-2.8zM579.9 346.1h2.0v1.3h-2.0zM535.5 355.1h2.4v1.1h-2.4zM582.2 256.0h1.6v0.9h-1.6zM579.7 349.2h2.0v1.3h-2.0zM589.0 380.6h2.4v1.3h-2.4zM589.0 265.4h1.6v0.9h-1.6zM559.7 377.9h2.4v1.3h-2.4zM574.7 298.2h2.4v1.3h-2.4zM559.3 268.7h2.8v1.3h-2.8zM552.2 303.9h1.6v0.9h-1.6zM595.1 277.2h2.8v0.9h-2.8zM566.7 295.2h1.6v1.3h-1.6zM567.2 295.0h2.8v0.9h-2.8zM591.1 379.3h2.4v1.3h-2.4zM530.3 304.7h2.4v1.3h-2.4zM592.1 270.9h2.8v1.3h-2.8zM583.3 259.2h1.6v1.1h-1.6zM589.4 350.0h2.4v0.9h-2.4zM523.7 326.8h1.6v1.3h-1.6zM565.2 357.9h2.0v1.1h-2.0zM595.2 274.4h1.6v0.9h-1.6zM587.4 295.2h2.8v0.9h-2.8zM546.5 262.8h2.4v1.3h-2.4zM551.4 281.7h2.0v1.3h-2.0zM575.0 287.9h2.8v0.9h-2.8zM587.7 299.0h2.4v1.1h-2.4zM539.7 280.6h1.6v0.9h-1.6zM531.9 355.2h2.4v1.3h-2.4zM550.9 294.1h1.6v1.1h-1.6zM535.5 359.8h2.4v1.1h-2.4zM543.0 265.1h1.6v0.9h-1.6zM557.8 298.7h2.4v0.9h-2.4zM551.9 285.6h2.4v1.3h-2.4zM592.3 332.9h1.6v1.1h-1.6zM580.2 352.9h2.8v1.3h-2.8zM577.5 363.2h2.4v1.1h-2.4zM593.3 291.1h2.4v0.9h-2.4zM567.4 362.0h2.4v1.3h-2.4zM583.3 370.1h2.0v1.3h-2.0zM579.6 307.6h1.6v1.1h-1.6zM524.6 288.0h1.6v0.9h-1.6zM545.8 266.4h1.6v1.1h-1.6zM559.1 367.1h2.8v1.1h-2.8zM539.5 352.3h2.4v0.9h-2.4zM584.7 264.7h1.6v1.1h-1.6zM578.6 259.3h2.8v1.1h-2.8zM564.8 292.0h2.4v1.3h-2.4zM556.6 349.9h2.0v1.1h-2.0zM542.8 357.9h2.8v1.3h-2.8zM565.7 287.4h2.8v1.1h-2.8zM590.4 343.2h2.8v0.9h-2.8zM532.7 294.2h2.8v0.9h-2.8zM550.8 358.9h2.8v0.9h-2.8zM539.7 286.8h1.6v0.9h-1.6zM583.6 293.2h2.0v1.1h-2.0zM562.6 258.3h2.8v1.3h-2.8zM594.7 278.3h2.4v1.3h-2.4zM559.1 334.0h2.0v1.1h-2.0zM548.0 276.2h1.6v1.1h-1.6zM519.7 303.0h2.0v1.1h-2.0zM536.9 344.5h1.6v0.9h-1.6zM545.3 279.1h2.8v1.3h-2.8zM529.8 347.7h2.0v1.3h-2.0zM544.0 267.0h2.0v1.1h-2.0zM596.0 330.2h2.4v1.3h-2.4zM569.0 377.0h2.4v1.1h-2.4zM562.1 281.6h2.8v1.3h-2.8zM561.0 291.5h2.0v1.3h-2.0zM531.3 304.0h1.6v1.3h-1.6zM555.0 274.7h2.0v0.9h-2.0zM559.6 376.9h2.4v1.1h-2.4zM554.8 343.1h2.4v0.9h-2.4zM524.1 298.8h2.4v1.3h-2.4zM551.6 306.8h2.8v1.1h-2.8zM560.2 329.1h1.6v0.9h-1.6zM585.4 349.2h1.6v1.3h-1.6zM576.3 267.4h2.0v1.1h-2.0zM566.9 371.4h1.6v1.3h-1.6zM580.2 301.5h2.8v1.1h-2.8zM583.6 256.1h2.8v0.9h-2.8zM559.5 378.7h2.0v1.1h-2.0zM581.4 295.1h2.8v1.1h-2.8zM541.2 327.3h2.0v1.1h-2.0zM548.7 329.5h2.8v1.3h-2.8zM573.8 369.3h1.6v1.1h-1.6zM567.3 257.9h1.6v1.1h-1.6zM519.0 303.1h2.4v0.9h-2.4zM545.3 361.8h2.8v1.1h-2.8zM554.7 299.8h2.8v1.3h-2.8zM547.8 337.7h1.6v0.9h-1.6zM550.0 290.9h1.6v1.1h-1.6zM564.0 294.8h2.0v0.9h-2.0zM582.7 280.2h2.4v1.3h-2.4zM540.8 340.3h2.8v1.3h-2.8zM569.3 330.2h1.6v1.3h-1.6zM543.5 270.2h1.6v1.1h-1.6zM538.1 366.2h2.8v1.1h-2.8zM542.4 326.1h1.6v1.1h-1.6zM587.8 384.9h2.8v0.9h-2.8zM583.9 285.9h1.6v0.9h-1.6zM575.0 292.4h2.4v1.1h-2.4zM533.0 329.3h2.4v1.1h-2.4zM566.4 375.7h2.4v0.9h-2.4zM551.4 301.4h2.4v1.1h-2.4zM559.0 363.0h2.8v1.3h-2.8zM551.8 347.0h2.4v1.3h-2.4zM561.6 327.8h2.0v0.9h-2.0zM534.7 341.8h2.4v1.3h-2.4zM557.9 260.5h2.4v1.1h-2.4zM590.7 336.3h2.0v1.3h-2.0zM526.8 286.7h2.4v1.3h-2.4z" fill="#1e1e1e"/>
<path d="M595.1 374.3h2.0v1.3h-2.0zM549.5 263.0h1.6v1.1h-1.6zM523.5 291.8h2.0v1.1h-2.0zM591.4 268.3h2.8v1.3h-2.8zM582.4 254.9h1.6v1.3h-1.6zM558.8 306.1h1.6v0.9h-1.6zM561.8 339.5h1.6v1.1h-1.6zM560.7 369.3h1.6v0.9h-1.6zM595.2 299.3h2.8v1.3h-2.8zM557.8 378.6h2.4v1.3h-2.4zM554.8 331.0h1.6v1.1h-1.6zM579.5 256.0h2.4v0.9h-2.4zM559.5 262.2h2.4v0.9h-2.4zM576.4 297.1h2.8v0.9h-2.8zM576.7 361.7h2.0v1.1h-2.0zM560.2 270.3h2.4v1.1h-2.4zM570.4 250.5h1.6v0.9h-1.6zM579.4 251.0h2.4v0.9h-2.4zM550.0 338.1h2.8v1.1h-2.8zM595.5 360.1h2.4v0.9h-2.4zM580.5 382.4h2.4v0.9h-2.4zM569.3 373.7h2.8v1.1h-2.8zM572.8 380.6h2.0v1.3h-2.0zM524.3 286.9h2.8v1.3h-2.8zM543.3 273.4h2.4v1.1h-2.4zM587.7 350.3h2.8v1.1h-2.8zM590.0 380.7h2.8v1.1h-2.8zM531.3 356.9h2.8v1.1h-2.8zM551.8 275.3h2.4v1.1h-2.4zM594.4 287.0h2.4v1.1h-2.4zM550.7 335.1h2.0v0.9h-2.0zM546.8 363.5h2.4v0.9h-2.4zM594.5 266.6h2.0v1.3h-2.0zM571.0 337.8h1.6v0.9h-1.6zM589.3 260.9h2.8v0.9h-2.8zM540.3 267.3h2.8v0.9h-2.8zM529.8 327.4h1.6v1.1h-1.6zM532.4 307.8h1.6v1.3h-1.6zM588.9 286.8h2.0v1.3h-2.0zM550.9 290.4h2.0v0.9h-2.0zM551.7 326.2h2.0v0.9h-2.0zM564.6 335.1h1.6v0.9h-1.6zM577.3 278.1h1.6v1.1h-1.6zM576.9 376.6h2.0v0.9h-2.0zM532.4 329.2h1.6v0.9h-1.6zM563.3 334.5h2.0v1.1h-2.0zM539.9 289.4h1.6v1.1h-1.6zM571.1 377.3h2.4v1.3h-2.4zM550.8 305.9h2.8v1.1h-2.8zM578.6 250.6h1.6v1.3h-1.6zM571.7 382.5h2.0v1.1h-2.0zM589.7 263.5h2.4v1.3h-2.4zM590.2 307.8h2.0v1.3h-2.0zM542.6 289.1h2.0v1.3h-2.0zM535.8 275.0h2.0v0.9h-2.0zM561.3 262.7h1.6v1.3h-1.6zM540.3 279.3h2.0v0.9h-2.0zM594.9 290.6h1.6v0.9h-1.6zM571.2 370.1h1.6v0.9h-1.6zM578.6 356.2h1.6v0.9h-1.6zM575.6 330.3h2.8v0.9h-2.8zM555.8 363.9h2.4v0.9h-2.4zM554.5 280.3h1.6v1.1h-1.6zM542.1 270.4h2.0v1.1h-2.0zM567.7 255.0h2.0v1.3h-2.0z" fill="#555"/>
<circle cx="585.8" cy="317" r="70.8" fill="none" stroke="#111" stroke-width="1.7"/>
<line x1="598.6" y1="247.4" x2="598.6" y2="386.6" stroke="#111" stroke-width="1.3"/>
<g stroke="#444" stroke-width="0.8" fill="#fff" stroke-linejoin="round">
<path d="M551.2 311.3 L599.5 311.3 L599.5 323.90000000000003 L551.2 323.90000000000003"/>
<rect x="597.9" y="310.4" width="4.6" height="14.4" rx="1.8"/>
<path d="M599.3 311.8 L599.3 323.4" fill="none" stroke-width="0.6"/>
<path d="M551.2 311.3 Q547.6 310.1 543.9 311.6 Q540.2 310.1 536.6 311.6 Q533.0 310.1 529.3 311.6 Q525.6 310.1 522.0 311.6 Q517.0 312.8 517.0 317.6 Q517.0 322.4 522.0 323.6 Q525.6 325.1 529.3 323.90000000000003 Q533.0 325.1 536.6 323.90000000000003 Q540.2 325.1 543.9 323.90000000000003 Q547.6 325.1 551.2 323.90000000000003"/>
<path d="M543.9 311.6 Q545.1 317.6 543.9 323.6 M536.6 311.6 Q537.8 317.6 536.6 323.6 M529.3 311.6 Q530.5 317.6 529.3 323.6 M522.0 311.6 Q523.2 317.6 522.0 323.6 " fill="none" stroke-width="0.7"/>
<path d="M519.0 317.6 L551.2 317.6 M536.6 314.6 L543.9 314.6 M529.3 320.6 L536.6 320.6" fill="none" stroke-width="0.6"/>
<path d="M549.2 316.70000000000005 L569.2 316.70000000000005 Q570.4 317.6 569.2 318.5 L549.2 318.5" fill="none" stroke-width="0.7"/>
<path d="M555.5 312.1 L556.5 308.7 L564.9 307.7 L564.9 311.1 Z M555.5 323.1 L556.5 326.50000000000006 L564.9 327.50000000000006 L564.9 324.1 Z"/>
</g>
<text x="611.2" y="299" font-size="15" fill="#111" textLength="33.5" lengthAdjust="spacing">3x B</text>
<path d="M62.7 618.7a1.2 1.02 0 1 0 2.4 0a1.2 1.02 0 1 0 -2.4 0M39.8 506.2a1.2 1.02 0 1 0 2.4 0a1.2 1.02 0 1 0 -2.4 0M15.8 553.3a1.1 0.94 0 1 0 2.2 0a1.1 0.94 0 1 0 -2.2 0M49.2 525.9a1.2 1.02 0 1 0 2.4 0a1.2 1.02 0 1 0 -2.4 0M18.3 618.7a1.2 1.02 0 1 0 2.4 0a1.2 1.02 0 1 0 -2.4 0M73.3 527.9a1.0 0.85 0 1 0 2.0 0a1.0 0.85 0 1 0 -2.0 0M61.5 541.6a1.1 0.94 0 1 0 2.2 0a1.1 0.94 0 1 0 -2.2 0M33.5 512.0a1.1 0.94 0 1 0 2.2 0a1.1 0.94 0 1 0 -2.2 0M37.5 518.5a1.3 1.10 0 1 0 2.6 0a1.3 1.10 0 1 0 -2.6 0M35.1 596.1a1.1 0.94 0 1 0 2.2 0a1.1 0.94 0 1 0 -2.2 0M51.5 623.6a1.0 0.85 0 1 0 2.0 0a1.0 0.85 0 1 0 -2.0 0M68.0 603.9a1.3 1.10 0 1 0 2.6 0a1.3 1.10 0 1 0 -2.6 0M38.5 637.7a1.2 1.02 0 1 0 2.4 0a1.2 1.02 0 1 0 -2.4 0M70.7 529.0a1.3 1.10 0 1 0 2.6 0a1.3 1.10 0 1 0 -2.6 0M30.0 622.9a1.3 1.10 0 1 0 2.6 0a1.3 1.10 0 1 0 -2.6 0M49.1 601.7a1.3 1.10 0 1 0 2.6 0a1.3 1.10 0 1 0 -2.6 0M39.9 556.6a1.2 1.02 0 1 0 2.4 0a1.2 1.02 0 1 0 -2.4 0M60.6 541.5a1.0 0.85 0 1 0 2.0 0a1.0 0.85 0 1 0 -2.0 0M47.6 601.5a1.2 1.02 0 1 0 2.4 0a1.2 1.02 0 1 0 -2.4 0M74.8 502.5a1.0 0.85 0 1 0 2.0 0a1.0 0.85 0 1 0 -2.0 0M54.0 640.8a1.1 0.94 0 1 0 2.2 0a1.1 0.94 0 1 0 -2.2 0M38.3 594.7a1.0 0.85 0 1 0 2.0 0a1.0 0.85 0 1 0 -2.0 0M75.2 522.4a1.0 0.85 0 1 0 2.0 0a1.0 0.85 0 1 0 -2.0 0M68.9 502.0a1.2 1.02 0 1 0 2.4 0a1.2 1.02 0 1 0 -2.4 0M67.6 535.1a1.0 0.85 0 1 0 2.0 0a1.0 0.85 0 1 0 -2.0 0M64.6 516.6a1.1 0.94 0 1 0 2.2 0a1.1 0.94 0 1 0 -2.2 0M65.3 584.6a1.2 1.02 0 1 0 2.4 0a1.2 1.02 0 1 0 -2.4 0M51.7 605.9a1.2 1.02 0 1 0 2.4 0a1.2 1.02 0 1 0 -2.4 0M72.7 506.1a1.1 0.94 0 1 0 2.2 0a1.1 0.94 0 1 0 -2.2 0M26.8 587.4a1.0 0.85 0 1 0 2.0 0a1.0 0.85 0 1 0 -2.0 0M17.1 519.9a1.2 1.02 0 1 0 2.4 0a1.2 1.02 0 1 0 -2.4 0M67.1 593.2a1.3 1.10 0 1 0 2.6 0a1.3 1.10 0 1 0 -2.6 0M55.1 555.9a1.3 1.10 0 1 0 2.6 0a1.3 1.10 0 1 0 -2.6 0M72.8 525.0a1.3 1.10 0 1 0 2.6 0a1.3 1.10 0 1 0 -2.6 0M25.7 590.9a1.0 0.85 0 1 0 2.0 0a1.0 0.85 0 1 0 -2.0 0M52.5 642.7a1.2 1.02 0 1 0 2.4 0a1.2 1.02 0 1 0 -2.4 0M62.8 601.7a1.2 1.02 0 1 0 2.4 0a1.2 1.02 0 1 0 -2.4 0M73.4 650.0a1.3 1.10 0 1 0 2.6 0a1.3 1.10 0 1 0 -2.6 0M36.7 540.3a1.0 0.85 0 1 0 2.0 0a1.0 0.85 0 1 0 -2.0 0M17.1 535.5a1.0 0.85 0 1 0 2.0 0a1.0 0.85 0 1 0 -2.0 0M41.6 506.9a1.0 0.85 0 1 0 2.0 0a1.0 0.85 0 1 0 -2.0 0M34.6 625.4a1.1 0.94 0 1 0 2.2 0a1.1 0.94 0 1 0 -2.2 0M72.6 632.4a1.2 1.02 0 1 0 2.4 0a1.2 1.02 0 1 0 -2.4 0M20.5 536.3a1.2 1.02 0 1 0 2.4 0a1.2 1.02 0 1 0 -2.4 0M22.5 595.2a1.0 0.85 0 1 0 2.0 0a1.0 0.85 0 1 0 -2.0 0M69.5 527.3a1.2 1.02 0 1 0 2.4 0a1.2 1.02 0 1 0 -2.4 0M6.3 555.1a1.0 0.85 0 1 0 2.0 0a1.0 0.85 0 1 0 -2.0 0M52.4 497.6a1.0 0.85 0 1 0 2.0 0a1.0 0.85 0 1 0 -2.0 0M19.9 591.8a1.0 0.85 0 1 0 2.0 0a1.0 0.85 0 1 0 -2.0 0M24.2 532.7a1.1 0.94 0 1 0 2.2 0a1.1 0.94 0 1 0 -2.2 0M15.1 550.0a1.0 0.85 0 1 0 2.0 0a1.0 0.85 0 1 0 -2.0 0M13.3 554.1a1.1 0.94 0 1 0 2.2 0a1.1 0.94 0 1 0 -2.2 0M48.1 620.6a1.3 1.10 0 1 0 2.6 0a1.3 1.10 0 1 0 -2.6 0M73.7 632.8a1.2 1.02 0 1 0 2.4 0a1.2 1.02 0 1 0 -2.4 0M15.7 536.0a1.3 1.10 0 1 0 2.6 0a1.3 1.10 0 1 0 -2.6 0M72.9 614.1a1.0 0.85 0 1 0 2.0 0a1.0 0.85 0 1 0 -2.0 0M66.3 560.1a1.1 0.94 0 1 0 2.2 0a1.1 0.94 0 1 0 -2.2 0M65.8 582.1a1.0 0.85 0 1 0 2.0 0a1.0 0.85 0 1 0 -2.0 0M57.8 518.7a1.1 0.94 0 1 0 2.2 0a1.1 0.94 0 1 0 -2.2 0M38.0 539.0a1.2 1.02 0 1 0 2.4 0a1.2 1.02 0 1 0 -2.4 0M52.0 606.0a1.0 0.85 0 1 0 2.0 0a1.0 0.85 0 1 0 -2.0 0M59.3 609.5a1.3 1.10 0 1 0 2.6 0a1.3 1.10 0 1 0 -2.6 0M34.1 635.9a1.2 1.02 0 1 0 2.4 0a1.2 1.02 0 1 0 -2.4 0M31.6 580.1a1.0 0.85 0 1 0 2.0 0a1.0 0.85 0 1 0 -2.0 0M73.3 656.3a1.1 0.94 0 1 0 2.2 0a1.1 0.94 0 1 0 -2.2 0M58.4 627.5a1.0 0.85 0 1 0 2.0 0a1.0 0.85 0 1 0 -2.0 0M59.6 494.5a1.2 1.02 0 1 0 2.4 0a1.2 1.02 0 1 0 -2.4 0M59.6 487.2a1.1 0.94 0 1 0 2.2 0a1.1 0.94 0 1 0 -2.2 0M75.5 488.6a1.2 1.02 0 1 0 2.4 0a1.2 1.02 0 1 0 -2.4 0M47.9 502.5a1.3 1.10 0 1 0 2.6 0a1.3 1.10 0 1 0 -2.6 0M17.5 518.6a1.3 1.10 0 1 0 2.6 0a1.3 1.10 0 1 0 -2.6 0M72.3 477.7a1.2 1.02 0 1 0 2.4 0a1.2 1.02 0 1 0 -2.4 0M64.1 640.2a1.3 1.10 0 1 0 2.6 0a1.3 1.10 0 1 0 -2.6 0M27.1 521.2a1.1 0.94 0 1 0 2.2 0a1.1 0.94 0 1 0 -2.2 0M33.9 522.9a1.0 0.85 0 1 0 2.0 0a1.0 0.85 0 1 0 -2.0 0M34.6 561.7a1.1 0.94 0 1 0 2.2 0a1.1 0.94 0 1 0 -2.2 0M20.7 561.9a1.3 1.10 0 1 0 2.6 0a1.3 1.10 0 1 0 -2.6 0M27.5 514.4a1.2 1.02 0 1 0 2.4 0a1.2 1.02 0 1 0 -2.4 0M13.7 608.6a1.2 1.02 0 1 0 2.4 0a1.2 1.02 0 1 0 -2.4 0M39.1 502.5a1.1 0.94 0 1 0 2.2 0a1.1 0.94 0 1 0 -2.2 0M11.4 586.1a1.2 1.02 0 1 0 2.4 0a1.2 1.02 0 1 0 -2.4 0M58.5 488.7a1.3 1.10 0 1 0 2.6 0a1.3 1.10 0 1 0 -2.6 0M15.4 550.2a1.1 0.94 0 1 0 2.2 0a1.1 0.94 0 1 0 -2.2 0M47.1 536.4a1.2 1.02 0 1 0 2.4 0a1.2 1.02 0 1 0 -2.4 0M67.0 479.8a1.3 1.10 0 1 0 2.6 0a1.3 1.10 0 1 0 -2.6 0M63.9 592.1a1.2 1.02 0 1 0 2.4 0a1.2 1.02 0 1 0 -2.4 0M37.3 614.1a1.2 1.02 0 1 0 2.4 0a1.2 1.02 0 1 0 -2.4 0M28.4 607.2a1.3 1.10 0 1 0 2.6 0a1.3 1.10 0 1 0 -2.6 0M61.5 485.0a1.3 1.10 0 1 0 2.6 0a1.3 1.10 0 1 0 -2.6 0M17.0 598.4a1.2 1.02 0 1 0 2.4 0a1.2 1.02 0 1 0 -2.4 0M68.6 612.3a1.3 1.10 0 1 0 2.6 0a1.3 1.10 0 1 0 -2.6 0M37.9 499.9a1.1 0.94 0 1 0 2.2 0a1.1 0.94 0 1 0 -2.2 0M58.7 504.6a1.2 1.02 0 1 0 2.4 0a1.2 1.02 0 1 0 -2.4 0M76.2 512.9a1.3 1.10 0 1 0 2.6 0a1.3 1.10 0 1 0 -2.6 0M49.1 538.8a1.0 0.85 0 1 0 2.0 0a1.0 0.85 0 1 0 -2.0 0M5.3 553.8a1.3 1.10 0 1 0 2.6 0a1.3 1.10 0 1 0 -2.6 0M31.4 616.9a1.0 0.85 0 1 0 2.0 0a1.0 0.85 0 1 0 -2.0 0M64.9 559.6a1.1 0.94 0 1 0 2.2 0a1.1 0.94 0 1 0 -2.2 0M23.0 603.7a1.3 1.10 0 1 0 2.6 0a1.3 1.10 0 1 0 -2.6 0M47.8 552.9a1.1 0.94 0 1 0 2.2 0a1.1 0.94 0 1 0 -2.2 0M63.1 545.8a1.1 0.94 0 1 0 2.2 0a1.1 0.94 0 1 0 -2.2 0M56.6 490.2a1.3 1.10 0 1 0 2.6 0a1.3 1.10 0 1 0 -2.6 0M39.1 527.5a1.3 1.10 0 1 0 2.6 0a1.3 1.10 0 1 0 -2.6 0M49.6 562.0a1.2 1.02 0 1 0 2.4 0a1.2 1.02 0 1 0 -2.4 0M21.8 587.9a1.0 0.85 0 1 0 2.0 0a1.0 0.85 0 1 0 -2.0 0M74.6 656.2a1.3 1.10 0 1 0 2.6 0a1.3 1.10 0 1 0 -2.6 0M10.7 599.6a1.1 0.94 0 1 0 2.2 0a1.1 0.94 0 1 0 -2.2 0M74.1 644.5a1.3 1.10 0 1 0 2.6 0a1.3 1.10 0 1 0 -2.6 0M33.1 503.2a1.1 0.94 0 1 0 2.2 0a1.1 0.94 0 1 0 -2.2 0" fill="#1e1e1e"/>
<path d="M61.7 630.5a0.6 0.6 0 1 0 1.2 0a0.6 0.6 0 1 0 -1.2 0M16.0 531.5a0.7 0.7 0 1 0 1.4 0a0.7 0.7 0 1 0 -1.4 0M12.2 601.2a0.8 0.8 0 1 0 1.6 0a0.8 0.8 0 1 0 -1.6 0M50.2 525.1a0.7 0.7 0 1 0 1.4 0a0.7 0.7 0 1 0 -1.4 0M50.2 510.2a0.8 0.8 0 1 0 1.6 0a0.8 0.8 0 1 0 -1.6 0M70.7 654.9a0.6 0.6 0 1 0 1.2 0a0.6 0.6 0 1 0 -1.2 0M26.0 533.8a0.8 0.8 0 1 0 1.6 0a0.8 0.8 0 1 0 -1.6 0M53.8 487.1a0.7 0.7 0 1 0 1.4 0a0.7 0.7 0 1 0 -1.4 0M46.3 533.7a0.7 0.7 0 1 0 1.4 0a0.7 0.7 0 1 0 -1.4 0M13.9 528.9a0.7 0.7 0 1 0 1.4 0a0.7 0.7 0 1 0 -1.4 0M51.9 603.5a0.7 0.7 0 1 0 1.4 0a0.7 0.7 0 1 0 -1.4 0M75.8 600.1a0.6 0.6 0 1 0 1.2 0a0.6 0.6 0 1 0 -1.2 0M73.2 514.0a0.6 0.6 0 1 0 1.2 0a0.6 0.6 0 1 0 -1.2 0M48.4 521.5a0.7 0.7 0 1 0 1.4 0a0.7 0.7 0 1 0 -1.4 0M67.5 548.8a0.7 0.7 0 1 0 1.4 0a0.7 0.7 0 1 0 -1.4 0M33.9 625.0a0.6 0.6 0 1 0 1.2 0a0.6 0.6 0 1 0 -1.2 0M51.3 495.4a0.8 0.8 0 1 0 1.6 0a0.8 0.8 0 1 0 -1.6 0M53.5 641.3a0.6 0.6 0 1 0 1.2 0a0.6 0.6 0 1 0 -1.2 0M26.5 543.4a0.8 0.8 0 1 0 1.6 0a0.8 0.8 0 1 0 -1.6 0M10.0 596.9a0.8 0.8 0 1 0 1.6 0a0.8 0.8 0 1 0 -1.6 0M25.1 516.3a0.7 0.7 0 1 0 1.4 0a0.7 0.7 0 1 0 -1.4 0M70.9 548.8a0.7 0.7 0 1 0 1.4 0a0.7 0.7 0 1 0 -1.4 0M35.1 584.8a0.7 0.7 0 1 0 1.4 0a0.7 0.7 0 1 0 -1.4 0M54.8 589.9a0.8 0.8 0 1 0 1.6 0a0.8 0.8 0 1 0 -1.6 0M50.0 538.7a0.7 0.7 0 1 0 1.4 0a0.7 0.7 0 1 0 -1.4 0M69.4 595.3a0.6 0.6 0 1 0 1.2 0a0.6 0.6 0 1 0 -1.2 0M69.2 609.9a0.8 0.8 0 1 0 1.6 0a0.8 0.8 0 1 0 -1.6 0M22.7 601.6a0.6 0.6 0 1 0 1.2 0a0.6 0.6 0 1 0 -1.2 0M69.7 558.8a0.8 0.8 0 1 0 1.6 0a0.8 0.8 0 1 0 -1.6 0M32.2 588.7a0.8 0.8 0 1 0 1.6 0a0.8 0.8 0 1 0 -1.6 0M19.5 582.0a0.7 0.7 0 1 0 1.4 0a0.7 0.7 0 1 0 -1.4 0M54.6 533.8a0.7 0.7 0 1 0 1.4 0a0.7 0.7 0 1 0 -1.4 0M63.1 625.7a0.8 0.8 0 1 0 1.6 0a0.8 0.8 0 1 0 -1.6 0M45.4 635.5a0.6 0.6 0 1 0 1.2 0a0.6 0.6 0 1 0 -1.2 0M64.6 639.5a0.8 0.8 0 1 0 1.6 0a0.8 0.8 0 1 0 -1.6 0M75.3 628.8a0.6 0.6 0 1 0 1.2 0a0.6 0.6 0 1 0 -1.2 0M41.1 553.4a0.8 0.8 0 1 0 1.6 0a0.8 0.8 0 1 0 -1.6 0M51.1 620.4a0.6 0.6 0 1 0 1.2 0a0.6 0.6 0 1 0 -1.2 0M46.0 581.3a0.8 0.8 0 1 0 1.6 0a0.8 0.8 0 1 0 -1.6 0M45.7 586.7a0.6 0.6 0 1 0 1.2 0a0.6 0.6 0 1 0 -1.2 0M42.5 590.3a0.6 0.6 0 1 0 1.2 0a0.6 0.6 0 1 0 -1.2 0M44.2 514.9a0.7 0.7 0 1 0 1.4 0a0.7 0.7 0 1 0 -1.4 0M60.0 581.8a0.7 0.7 0 1 0 1.4 0a0.7 0.7 0 1 0 -1.4 0M13.4 558.1a0.6 0.6 0 1 0 1.2 0a0.6 0.6 0 1 0 -1.2 0M69.6 533.0a0.7 0.7 0 1 0 1.4 0a0.7 0.7 0 1 0 -1.4 0M58.8 600.2a0.6 0.6 0 1 0 1.2 0a0.6 0.6 0 1 0 -1.2 0M68.0 536.8a0.7 0.7 0 1 0 1.4 0a0.7 0.7 0 1 0 -1.4 0M55.8 554.1a0.6 0.6 0 1 0 1.2 0a0.6 0.6 0 1 0 -1.2 0M51.5 589.5a0.8 0.8 0 1 0 1.6 0a0.8 0.8 0 1 0 -1.6 0M47.5 503.3a0.7 0.7 0 1 0 1.4 0a0.7 0.7 0 1 0 -1.4 0M73.4 508.3a0.7 0.7 0 1 0 1.4 0a0.7 0.7 0 1 0 -1.4 0M64.6 558.2a0.8 0.8 0 1 0 1.6 0a0.8 0.8 0 1 0 -1.6 0M9.6 598.0a0.8 0.8 0 1 0 1.6 0a0.8 0.8 0 1 0 -1.6 0M24.5 524.3a0.6 0.6 0 1 0 1.2 0a0.6 0.6 0 1 0 -1.2 0M30.2 607.2a0.6 0.6 0 1 0 1.2 0a0.6 0.6 0 1 0 -1.2 0M12.6 591.5a0.6 0.6 0 1 0 1.2 0a0.6 0.6 0 1 0 -1.2 0M39.2 607.7a0.8 0.8 0 1 0 1.6 0a0.8 0.8 0 1 0 -1.6 0M39.5 587.2a0.7 0.7 0 1 0 1.4 0a0.7 0.7 0 1 0 -1.4 0M68.9 602.0a0.8 0.8 0 1 0 1.6 0a0.8 0.8 0 1 0 -1.6 0M24.0 599.6a0.7 0.7 0 1 0 1.4 0a0.7 0.7 0 1 0 -1.4 0M74.1 552.9a0.8 0.8 0 1 0 1.6 0a0.8 0.8 0 1 0 -1.6 0M65.4 504.0a0.7 0.7 0 1 0 1.4 0a0.7 0.7 0 1 0 -1.4 0M14.3 602.9a0.7 0.7 0 1 0 1.4 0a0.7 0.7 0 1 0 -1.4 0M12.6 552.3a0.6 0.6 0 1 0 1.2 0a0.6 0.6 0 1 0 -1.2 0M53.1 608.7a0.8 0.8 0 1 0 1.6 0a0.8 0.8 0 1 0 -1.6 0M70.7 636.5a0.7 0.7 0 1 0 1.4 0a0.7 0.7 0 1 0 -1.4 0M64.6 514.6a0.7 0.7 0 1 0 1.4 0a0.7 0.7 0 1 0 -1.4 0M39.4 627.1a0.6 0.6 0 1 0 1.2 0a0.6 0.6 0 1 0 -1.2 0M43.8 586.5a0.6 0.6 0 1 0 1.2 0a0.6 0.6 0 1 0 -1.2 0M63.0 527.9a0.6 0.6 0 1 0 1.2 0a0.6 0.6 0 1 0 -1.2 0M76.1 617.0a0.8 0.8 0 1 0 1.6 0a0.8 0.8 0 1 0 -1.6 0M58.0 629.4a0.8 0.8 0 1 0 1.6 0a0.8 0.8 0 1 0 -1.6 0M17.2 529.3a0.7 0.7 0 1 0 1.4 0a0.7 0.7 0 1 0 -1.4 0M61.8 638.2a0.8 0.8 0 1 0 1.6 0a0.8 0.8 0 1 0 -1.6 0M17.9 547.6a0.7 0.7 0 1 0 1.4 0a0.7 0.7 0 1 0 -1.4 0M59.6 483.2a0.6 0.6 0 1 0 1.2 0a0.6 0.6 0 1 0 -1.2 0M54.3 542.2a0.8 0.8 0 1 0 1.6 0a0.8 0.8 0 1 0 -1.6 0M68.0 636.8a0.6 0.6 0 1 0 1.2 0a0.6 0.6 0 1 0 -1.2 0M30.5 530.3a0.6 0.6 0 1 0 1.2 0a0.6 0.6 0 1 0 -1.2 0" fill="#555"/>
<circle cx="97.4" cy="567.9" r="95.7" fill="none" stroke="#111" stroke-width="1.7"/>
<line x1="79.4" y1="473.9" x2="79.4" y2="661.9" stroke="#111" stroke-width="1.3"/>
<g stroke="#444" stroke-width="0.8" fill="#fff" stroke-linejoin="round">
<path d="M34.4 564.6 L80.5 564.6 L80.5 577.4 L34.4 577.4"/>
<rect x="78.9" y="563.7" width="4.6" height="14.6" rx="1.8"/>
<path d="M80.3 565.1 L80.3 576.9" fill="none" stroke-width="0.6"/>
<path d="M34.4 564.6 Q30.9 563.4 27.4 564.9 Q24.0 563.4 20.5 564.9 Q17.0 563.4 13.5 564.9 Q10.1 563.4 6.6 564.9 Q1.6 566.1 1.6 571 Q1.6 575.9 6.6 577.1 Q10.1 578.6 13.5 577.4 Q17.0 578.6 20.5 577.4 Q24.0 578.6 27.4 577.4 Q30.9 578.6 34.4 577.4"/>
<path d="M27.4 564.9 Q28.6 571 27.4 577.1 M20.5 564.9 Q21.7 571 20.5 577.1 M13.5 564.9 Q14.7 571 13.5 577.1 M6.6 564.9 Q7.8 571 6.6 577.1 " fill="none" stroke-width="0.7"/>
<path d="M3.6 571 L34.4 571 M20.5 568 L27.4 568 M13.5 574 L20.5 574" fill="none" stroke-width="0.6"/>
<path d="M32.4 570.1 L51.6 570.1 Q52.8 571 51.6 571.9 L32.4 571.9" fill="none" stroke-width="0.7"/>
<path d="M38.5 565.4 L39.5 562.0 L47.5 561.0 L47.5 564.4 Z M38.5 576.6 L39.5 580.0 L47.5 581.0 L47.5 577.6 Z"/>
</g>
<g transform="translate(0,0)" stroke="#111" stroke-width="1.2" fill="#fff" stroke-linejoin="round">
<rect x="89.6" y="512.3" width="19.6" height="98.6"/>
<path d="M109.2 538.1 C122 536 140 530 152.2 522 C152 512 152.3 503 153.3 498.5 C154.5 494 160.5 494 161.3 499.5 C162.2 508 162 520 161.3 527.7 C160.5 532 158 533.5 155 534.5 C145 537.5 133 540 124 546.6 C119.5 550 118.2 553 118.2 557 L118.2 595.7 C118.2 600 120 601.3 124 601.3 L147.5 599.5 L158 603 L157.5 607.8 C150 610.8 138 612.8 129.5 612.6 C120 611.5 113 606 109.2 601.3 Z"/>
<ellipse cx="150.3" cy="592.8" rx="3.6" ry="7.3" transform="rotate(22 150.3 592.8)"/>
<ellipse cx="160" cy="594.5" rx="4.6" ry="12.6" transform="rotate(8 160 594.5)"/>
<ellipse cx="160.6" cy="594.7" rx="2.6" ry="11" transform="rotate(8 160.6 594.7)" fill="none" stroke-width="0.9"/>
</g>
<g fill="#6f6f6f"><rect x="90.3" y="565.3" width="13.6" height="11.3"/><rect x="103.4" y="563.2" width="6" height="15"/></g>
<g stroke="#333" stroke-width="0.8" fill="#fff">
<path d="M122.3 570.2 L128 567.8 L181.5 567.8 L185 565 Q187.5 569.5 185 574.5 L181.5 572.2 L128 572.2 Z"/>
<path d="M129.0 567.4 L129.5 572.6 M130.8 567.4 L131.2 572.6 M132.5 567.4 L133.0 572.6 M134.2 567.4 L134.8 572.6 M136.0 567.4 L136.5 572.6 M137.8 567.4 L138.2 572.6 M139.5 567.4 L140.0 572.6 M141.2 567.4 L141.8 572.6 M143.0 567.4 L143.5 572.6 M144.8 567.4 L145.2 572.6 M146.5 567.4 L147.0 572.6 M148.2 567.4 L148.8 572.6 M150.0 567.4 L150.5 572.6 M151.8 567.4 L152.2 572.6 M153.5 567.4 L154.0 572.6 M155.2 567.4 L155.8 572.6 M157.0 567.4 L157.5 572.6 M158.8 567.4 L159.2 572.6 M160.5 567.4 L161.0 572.6 M162.2 567.4 L162.8 572.6 M164.0 567.4 L164.5 572.6 M165.8 567.4 L166.2 572.6 M167.5 567.4 L168.0 572.6 M169.2 567.4 L169.8 572.6 M171.0 567.4 L171.5 572.6 M172.8 567.4 L173.2 572.6 M174.5 567.4 L175.0 572.6 M176.2 567.4 L176.8 572.6 M178.0 567.4 L178.5 572.6 M179.8 567.4 L180.2 572.6 " stroke-width="0.8" stroke="#222"/>
</g>
<path d="M111.4 511 L123.54 487.67 A23.7 23.7 0 1 1 134.09 492.97 Z" fill="#fff" stroke="#555" stroke-width="0.9"/>
<text x="128.5" y="474.8" font-size="10" fill="#111" textLength="21.3" lengthAdjust="spacing">1x A</text>
<path d="M177 574.9 L201.91 591.50 A24.1 24.1 0 1 1 192.53 599.56 Z" fill="#fff" stroke="#555" stroke-width="0.9"/>
<text x="201.5" y="616.7" font-size="10" fill="#111" textLength="22" lengthAdjust="spacing">3x C</text>
<path d="M325.4 648.6a1.1 0.94 0 1 0 2.2 0a1.1 0.94 0 1 0 -2.2 0M317.8 644.5a1.1 0.94 0 1 0 2.2 0a1.1 0.94 0 1 0 -2.2 0M284.5 611.9a1.3 1.10 0 1 0 2.6 0a1.3 1.10 0 1 0 -2.6 0M275.7 590.1a1.0 0.85 0 1 0 2.0 0a1.0 0.85 0 1 0 -2.0 0M285.8 535.2a1.2 1.02 0 1 0 2.4 0a1.2 1.02 0 1 0 -2.4 0M289.4 605.2a1.1 0.94 0 1 0 2.2 0a1.1 0.94 0 1 0 -2.2 0M329.4 541.8a1.0 0.85 0 1 0 2.0 0a1.0 0.85 0 1 0 -2.0 0M306.4 642.9a1.2 1.02 0 1 0 2.4 0a1.2 1.02 0 1 0 -2.4 0M317.0 625.4a1.1 0.94 0 1 0 2.2 0a1.1 0.94 0 1 0 -2.2 0M316.3 622.8a1.1 0.94 0 1 0 2.2 0a1.1 0.94 0 1 0 -2.2 0M288.2 549.0a1.1 0.94 0 1 0 2.2 0a1.1 0.94 0 1 0 -2.2 0M303.3 620.1a1.2 1.02 0 1 0 2.4 0a1.2 1.02 0 1 0 -2.4 0M301.3 541.4a1.1 0.94 0 1 0 2.2 0a1.1 0.94 0 1 0 -2.2 0M280.3 584.1a1.1 0.94 0 1 0 2.2 0a1.1 0.94 0 1 0 -2.2 0M303.0 514.9a1.2 1.02 0 1 0 2.4 0a1.2 1.02 0 1 0 -2.4 0M277.1 545.0a1.1 0.94 0 1 0 2.2 0a1.1 0.94 0 1 0 -2.2 0M295.0 554.4a1.3 1.10 0 1 0 2.6 0a1.3 1.10 0 1 0 -2.6 0M295.8 635.7a1.2 1.02 0 1 0 2.4 0a1.2 1.02 0 1 0 -2.4 0M275.4 546.8a1.1 0.94 0 1 0 2.2 0a1.1 0.94 0 1 0 -2.2 0M341.5 621.6a1.1 0.94 0 1 0 2.2 0a1.1 0.94 0 1 0 -2.2 0M317.5 587.4a1.1 0.94 0 1 0 2.2 0a1.1 0.94 0 1 0 -2.2 0M291.8 528.5a1.2 1.02 0 1 0 2.4 0a1.2 1.02 0 1 0 -2.4 0M320.3 627.5a1.3 1.10 0 1 0 2.6 0a1.3 1.10 0 1 0 -2.6 0M320.7 492.2a1.3 1.10 0 1 0 2.6 0a1.3 1.10 0 1 0 -2.6 0M312.7 627.4a1.0 0.85 0 1 0 2.0 0a1.0 0.85 0 1 0 -2.0 0M330.3 484.4a1.3 1.10 0 1 0 2.6 0a1.3 1.10 0 1 0 -2.6 0M325.6 525.2a1.3 1.10 0 1 0 2.6 0a1.3 1.10 0 1 0 -2.6 0M336.6 497.3a1.3 1.10 0 1 0 2.6 0a1.3 1.10 0 1 0 -2.6 0M321.8 500.5a1.1 0.94 0 1 0 2.2 0a1.1 0.94 0 1 0 -2.2 0M285.1 615.6a1.1 0.94 0 1 0 2.2 0a1.1 0.94 0 1 0 -2.2 0M335.7 558.5a1.0 0.85 0 1 0 2.0 0a1.0 0.85 0 1 0 -2.0 0M318.4 487.9a1.0 0.85 0 1 0 2.0 0a1.0 0.85 0 1 0 -2.0 0M305.9 558.6a1.2 1.02 0 1 0 2.4 0a1.2 1.02 0 1 0 -2.4 0M275.6 591.5a1.2 1.02 0 1 0 2.4 0a1.2 1.02 0 1 0 -2.4 0M341.0 606.9a1.2 1.02 0 1 0 2.4 0a1.2 1.02 0 1 0 -2.4 0M318.7 538.4a1.3 1.10 0 1 0 2.6 0a1.3 1.10 0 1 0 -2.6 0M287.8 516.7a1.2 1.02 0 1 0 2.4 0a1.2 1.02 0 1 0 -2.4 0M294.1 531.4a1.3 1.10 0 1 0 2.6 0a1.3 1.10 0 1 0 -2.6 0M319.7 652.1a1.2 1.02 0 1 0 2.4 0a1.2 1.02 0 1 0 -2.4 0M328.5 550.3a1.2 1.02 0 1 0 2.4 0a1.2 1.02 0 1 0 -2.4 0M341.4 481.8a1.3 1.10 0 1 0 2.6 0a1.3 1.10 0 1 0 -2.6 0M324.4 591.5a1.3 1.10 0 1 0 2.6 0a1.3 1.10 0 1 0 -2.6 0M324.2 646.8a1.1 0.94 0 1 0 2.2 0a1.1 0.94 0 1 0 -2.2 0M331.9 531.6a1.1 0.94 0 1 0 2.2 0a1.1 0.94 0 1 0 -2.2 0M319.3 524.5a1.1 0.94 0 1 0 2.2 0a1.1 0.94 0 1 0 -2.2 0M295.6 619.2a1.1 0.94 0 1 0 2.2 0a1.1 0.94 0 1 0 -2.2 0M310.4 533.2a1.3 1.10 0 1 0 2.6 0a1.3 1.10 0 1 0 -2.6 0M344.5 630.2a1.0 0.85 0 1 0 2.0 0a1.0 0.85 0 1 0 -2.0 0M283.3 553.8a1.0 0.85 0 1 0 2.0 0a1.0 0.85 0 1 0 -2.0 0M307.8 504.4a1.3 1.10 0 1 0 2.6 0a1.3 1.10 0 1 0 -2.6 0M313.6 491.4a1.0 0.85 0 1 0 2.0 0a1.0 0.85 0 1 0 -2.0 0M333.7 634.7a1.1 0.94 0 1 0 2.2 0a1.1 0.94 0 1 0 -2.2 0M280.6 603.7a1.1 0.94 0 1 0 2.2 0a1.1 0.94 0 1 0 -2.2 0M320.0 588.7a1.3 1.10 0 1 0 2.6 0a1.3 1.10 0 1 0 -2.6 0M307.7 511.3a1.2 1.02 0 1 0 2.4 0a1.2 1.02 0 1 0 -2.4 0M324.4 551.5a1.1 0.94 0 1 0 2.2 0a1.1 0.94 0 1 0 -2.2 0M299.0 500.1a1.1 0.94 0 1 0 2.2 0a1.1 0.94 0 1 0 -2.2 0M319.9 492.9a1.0 0.85 0 1 0 2.0 0a1.0 0.85 0 1 0 -2.0 0M320.2 614.1a1.3 1.10 0 1 0 2.6 0a1.3 1.10 0 1 0 -2.6 0M323.7 528.3a1.2 1.02 0 1 0 2.4 0a1.2 1.02 0 1 0 -2.4 0M326.1 509.0a1.3 1.10 0 1 0 2.6 0a1.3 1.10 0 1 0 -2.6 0M317.1 618.6a1.3 1.10 0 1 0 2.6 0a1.3 1.10 0 1 0 -2.6 0M298.8 517.2a1.2 1.02 0 1 0 2.4 0a1.2 1.02 0 1 0 -2.4 0M335.0 518.5a1.0 0.85 0 1 0 2.0 0a1.0 0.85 0 1 0 -2.0 0M344.7 556.5a1.2 1.02 0 1 0 2.4 0a1.2 1.02 0 1 0 -2.4 0M313.6 632.6a1.1 0.94 0 1 0 2.2 0a1.1 0.94 0 1 0 -2.2 0M296.7 621.0a1.0 0.85 0 1 0 2.0 0a1.0 0.85 0 1 0 -2.0 0M299.1 523.5a1.0 0.85 0 1 0 2.0 0a1.0 0.85 0 1 0 -2.0 0M338.2 641.5a1.3 1.10 0 1 0 2.6 0a1.3 1.10 0 1 0 -2.6 0M343.6 586.5a1.2 1.02 0 1 0 2.4 0a1.2 1.02 0 1 0 -2.4 0M341.6 477.5a1.2 1.02 0 1 0 2.4 0a1.2 1.02 0 1 0 -2.4 0M274.9 597.0a1.2 1.02 0 1 0 2.4 0a1.2 1.02 0 1 0 -2.4 0M343.8 498.5a1.3 1.10 0 1 0 2.6 0a1.3 1.10 0 1 0 -2.6 0M327.8 551.9a1.2 1.02 0 1 0 2.4 0a1.2 1.02 0 1 0 -2.4 0M332.8 498.0a1.1 0.94 0 1 0 2.2 0a1.1 0.94 0 1 0 -2.2 0M295.1 536.9a1.1 0.94 0 1 0 2.2 0a1.1 0.94 0 1 0 -2.2 0M305.1 638.8a1.0 0.85 0 1 0 2.0 0a1.0 0.85 0 1 0 -2.0 0M297.5 530.1a1.2 1.02 0 1 0 2.4 0a1.2 1.02 0 1 0 -2.4 0M306.8 644.7a1.1 0.94 0 1 0 2.2 0a1.1 0.94 0 1 0 -2.2 0M342.2 531.9a1.1 0.94 0 1 0 2.2 0a1.1 0.94 0 1 0 -2.2 0M299.3 590.9a1.1 0.94 0 1 0 2.2 0a1.1 0.94 0 1 0 -2.2 0M339.6 499.4a1.1 0.94 0 1 0 2.2 0a1.1 0.94 0 1 0 -2.2 0M278.3 535.8a1.2 1.02 0 1 0 2.4 0a1.2 1.02 0 1 0 -2.4 0M337.0 531.4a1.3 1.10 0 1 0 2.6 0a1.3 1.10 0 1 0 -2.6 0M329.4 643.6a1.3 1.10 0 1 0 2.6 0a1.3 1.10 0 1 0 -2.6 0M308.8 596.6a1.2 1.02 0 1 0 2.4 0a1.2 1.02 0 1 0 -2.4 0M308.8 555.5a1.3 1.10 0 1 0 2.6 0a1.3 1.10 0 1 0 -2.6 0M330.1 593.5a1.2 1.02 0 1 0 2.4 0a1.2 1.02 0 1 0 -2.4 0M277.5 605.7a1.2 1.02 0 1 0 2.4 0a1.2 1.02 0 1 0 -2.4 0M316.1 605.5a1.1 0.94 0 1 0 2.2 0a1.1 0.94 0 1 0 -2.2 0M313.9 587.7a1.3 1.10 0 1 0 2.6 0a1.3 1.10 0 1 0 -2.6 0M288.5 542.6a1.1 0.94 0 1 0 2.2 0a1.1 0.94 0 1 0 -2.2 0M311.7 596.7a1.3 1.10 0 1 0 2.6 0a1.3 1.10 0 1 0 -2.6 0M333.5 479.8a1.0 0.85 0 1 0 2.0 0a1.0 0.85 0 1 0 -2.0 0M324.9 503.9a1.3 1.10 0 1 0 2.6 0a1.3 1.10 0 1 0 -2.6 0M294.8 583.3a1.3 1.10 0 1 0 2.6 0a1.3 1.10 0 1 0 -2.6 0M327.8 605.7a1.1 0.94 0 1 0 2.2 0a1.1 0.94 0 1 0 -2.2 0M272.5 542.4a1.0 0.85 0 1 0 2.0 0a1.0 0.85 0 1 0 -2.0 0M296.5 619.7a1.1 0.94 0 1 0 2.2 0a1.1 0.94 0 1 0 -2.2 0M282.2 548.8a1.0 0.85 0 1 0 2.0 0a1.0 0.85 0 1 0 -2.0 0M280.9 603.5a1.0 0.85 0 1 0 2.0 0a1.0 0.85 0 1 0 -2.0 0M325.1 612.2a1.0 0.85 0 1 0 2.0 0a1.0 0.85 0 1 0 -2.0 0M333.6 541.7a1.2 1.02 0 1 0 2.4 0a1.2 1.02 0 1 0 -2.4 0M331.4 591.9a1.3 1.10 0 1 0 2.6 0a1.3 1.10 0 1 0 -2.6 0M342.5 614.1a1.2 1.02 0 1 0 2.4 0a1.2 1.02 0 1 0 -2.4 0M324.3 641.5a1.0 0.85 0 1 0 2.0 0a1.0 0.85 0 1 0 -2.0 0M282.9 528.1a1.3 1.10 0 1 0 2.6 0a1.3 1.10 0 1 0 -2.6 0M282.2 599.2a1.2 1.02 0 1 0 2.4 0a1.2 1.02 0 1 0 -2.4 0M300.9 500.5a1.0 0.85 0 1 0 2.0 0a1.0 0.85 0 1 0 -2.0 0M336.8 631.1a1.3 1.10 0 1 0 2.6 0a1.3 1.10 0 1 0 -2.6 0M290.8 630.9a1.3 1.10 0 1 0 2.6 0a1.3 1.10 0 1 0 -2.6 0M276.1 530.1a1.0 0.85 0 1 0 2.0 0a1.0 0.85 0 1 0 -2.0 0M277.3 535.3a1.3 1.10 0 1 0 2.6 0a1.3 1.10 0 1 0 -2.6 0M340.1 536.8a1.3 1.10 0 1 0 2.6 0a1.3 1.10 0 1 0 -2.6 0M297.2 520.5a1.3 1.10 0 1 0 2.6 0a1.3 1.10 0 1 0 -2.6 0M273.7 544.1a1.3 1.10 0 1 0 2.6 0a1.3 1.10 0 1 0 -2.6 0M338.6 621.0a1.2 1.02 0 1 0 2.4 0a1.2 1.02 0 1 0 -2.4 0M289.8 519.1a1.2 1.02 0 1 0 2.4 0a1.2 1.02 0 1 0 -2.4 0M329.0 520.5a1.0 0.85 0 1 0 2.0 0a1.0 0.85 0 1 0 -2.0 0M333.6 618.8a1.0 0.85 0 1 0 2.0 0a1.0 0.85 0 1 0 -2.0 0M313.1 533.4a1.1 0.94 0 1 0 2.2 0a1.1 0.94 0 1 0 -2.2 0M335.0 623.3a1.0 0.85 0 1 0 2.0 0a1.0 0.85 0 1 0 -2.0 0M310.8 488.6a1.1 0.94 0 1 0 2.2 0a1.1 0.94 0 1 0 -2.2 0M313.4 514.1a1.2 1.02 0 1 0 2.4 0a1.2 1.02 0 1 0 -2.4 0M307.3 632.5a1.1 0.94 0 1 0 2.2 0a1.1 0.94 0 1 0 -2.2 0M318.3 531.4a1.2 1.02 0 1 0 2.4 0a1.2 1.02 0 1 0 -2.4 0M275.3 557.2a1.0 0.85 0 1 0 2.0 0a1.0 0.85 0 1 0 -2.0 0M321.5 591.5a1.2 1.02 0 1 0 2.4 0a1.2 1.02 0 1 0 -2.4 0M291.5 602.9a1.1 0.94 0 1 0 2.2 0a1.1 0.94 0 1 0 -2.2 0M311.0 622.3a1.1 0.94 0 1 0 2.2 0a1.1 0.94 0 1 0 -2.2 0" fill="#1e1e1e"/>
<path d="M309.0 601.6a0.8 0.8 0 1 0 1.6 0a0.8 0.8 0 1 0 -1.6 0M272.0 536.9a0.7 0.7 0 1 0 1.4 0a0.7 0.7 0 1 0 -1.4 0M287.3 606.4a0.7 0.7 0 1 0 1.4 0a0.7 0.7 0 1 0 -1.4 0M298.1 517.1a0.7 0.7 0 1 0 1.4 0a0.7 0.7 0 1 0 -1.4 0M269.3 552.3a0.8 0.8 0 1 0 1.6 0a0.8 0.8 0 1 0 -1.6 0M294.3 622.4a0.8 0.8 0 1 0 1.6 0a0.8 0.8 0 1 0 -1.6 0M293.3 595.2a0.7 0.7 0 1 0 1.4 0a0.7 0.7 0 1 0 -1.4 0M319.9 551.5a0.8 0.8 0 1 0 1.6 0a0.8 0.8 0 1 0 -1.6 0M319.5 552.3a0.8 0.8 0 1 0 1.6 0a0.8 0.8 0 1 0 -1.6 0M310.0 551.3a0.6 0.6 0 1 0 1.2 0a0.6 0.6 0 1 0 -1.2 0M287.6 550.2a0.7 0.7 0 1 0 1.4 0a0.7 0.7 0 1 0 -1.4 0M289.5 528.2a0.7 0.7 0 1 0 1.4 0a0.7 0.7 0 1 0 -1.4 0M343.7 628.7a0.8 0.8 0 1 0 1.6 0a0.8 0.8 0 1 0 -1.6 0M311.2 589.6a0.8 0.8 0 1 0 1.6 0a0.8 0.8 0 1 0 -1.6 0M305.6 551.3a0.7 0.7 0 1 0 1.4 0a0.7 0.7 0 1 0 -1.4 0M341.5 499.0a0.7 0.7 0 1 0 1.4 0a0.7 0.7 0 1 0 -1.4 0M324.1 526.4a0.8 0.8 0 1 0 1.6 0a0.8 0.8 0 1 0 -1.6 0M328.9 553.6a0.8 0.8 0 1 0 1.6 0a0.8 0.8 0 1 0 -1.6 0M303.9 602.5a0.7 0.7 0 1 0 1.4 0a0.7 0.7 0 1 0 -1.4 0M322.0 554.6a0.7 0.7 0 1 0 1.4 0a0.7 0.7 0 1 0 -1.4 0M330.2 598.9a0.6 0.6 0 1 0 1.2 0a0.6 0.6 0 1 0 -1.2 0M323.6 497.3a0.6 0.6 0 1 0 1.2 0a0.6 0.6 0 1 0 -1.2 0M342.8 553.9a0.6 0.6 0 1 0 1.2 0a0.6 0.6 0 1 0 -1.2 0M318.0 626.0a0.8 0.8 0 1 0 1.6 0a0.8 0.8 0 1 0 -1.6 0M280.4 596.9a0.7 0.7 0 1 0 1.4 0a0.7 0.7 0 1 0 -1.4 0M291.5 558.6a0.6 0.6 0 1 0 1.2 0a0.6 0.6 0 1 0 -1.2 0M342.4 609.1a0.6 0.6 0 1 0 1.2 0a0.6 0.6 0 1 0 -1.2 0M317.6 507.6a0.6 0.6 0 1 0 1.2 0a0.6 0.6 0 1 0 -1.2 0M310.4 498.1a0.7 0.7 0 1 0 1.4 0a0.7 0.7 0 1 0 -1.4 0M324.8 606.1a0.7 0.7 0 1 0 1.4 0a0.7 0.7 0 1 0 -1.4 0M320.4 526.3a0.8 0.8 0 1 0 1.6 0a0.8 0.8 0 1 0 -1.6 0M278.0 590.4a0.7 0.7 0 1 0 1.4 0a0.7 0.7 0 1 0 -1.4 0M330.3 494.2a0.7 0.7 0 1 0 1.4 0a0.7 0.7 0 1 0 -1.4 0M314.0 504.4a0.6 0.6 0 1 0 1.2 0a0.6 0.6 0 1 0 -1.2 0M327.7 622.3a0.8 0.8 0 1 0 1.6 0a0.8 0.8 0 1 0 -1.6 0M297.4 616.2a0.7 0.7 0 1 0 1.4 0a0.7 0.7 0 1 0 -1.4 0M301.6 622.7a0.8 0.8 0 1 0 1.6 0a0.8 0.8 0 1 0 -1.6 0M330.5 541.2a0.8 0.8 0 1 0 1.6 0a0.8 0.8 0 1 0 -1.6 0M281.5 526.5a0.8 0.8 0 1 0 1.6 0a0.8 0.8 0 1 0 -1.6 0M287.1 609.0a0.8 0.8 0 1 0 1.6 0a0.8 0.8 0 1 0 -1.6 0M344.0 529.2a0.8 0.8 0 1 0 1.6 0a0.8 0.8 0 1 0 -1.6 0M310.4 608.8a0.6 0.6 0 1 0 1.2 0a0.6 0.6 0 1 0 -1.2 0M270.7 550.8a0.8 0.8 0 1 0 1.6 0a0.8 0.8 0 1 0 -1.6 0M289.6 525.4a0.6 0.6 0 1 0 1.2 0a0.6 0.6 0 1 0 -1.2 0M300.4 534.1a0.7 0.7 0 1 0 1.4 0a0.7 0.7 0 1 0 -1.4 0M325.0 483.3a0.6 0.6 0 1 0 1.2 0a0.6 0.6 0 1 0 -1.2 0M317.9 649.4a0.7 0.7 0 1 0 1.4 0a0.7 0.7 0 1 0 -1.4 0M312.2 556.2a0.6 0.6 0 1 0 1.2 0a0.6 0.6 0 1 0 -1.2 0M331.9 629.6a0.6 0.6 0 1 0 1.2 0a0.6 0.6 0 1 0 -1.2 0M328.3 617.0a0.6 0.6 0 1 0 1.2 0a0.6 0.6 0 1 0 -1.2 0M322.6 488.8a0.7 0.7 0 1 0 1.4 0a0.7 0.7 0 1 0 -1.4 0M341.0 542.6a0.8 0.8 0 1 0 1.6 0a0.8 0.8 0 1 0 -1.6 0M341.6 486.4a0.8 0.8 0 1 0 1.6 0a0.8 0.8 0 1 0 -1.6 0M315.8 490.4a0.7 0.7 0 1 0 1.4 0a0.7 0.7 0 1 0 -1.4 0M301.1 582.3a0.8 0.8 0 1 0 1.6 0a0.8 0.8 0 1 0 -1.6 0M324.3 484.8a0.6 0.6 0 1 0 1.2 0a0.6 0.6 0 1 0 -1.2 0M340.3 504.1a0.7 0.7 0 1 0 1.4 0a0.7 0.7 0 1 0 -1.4 0M310.5 598.7a0.7 0.7 0 1 0 1.4 0a0.7 0.7 0 1 0 -1.4 0M286.5 592.3a0.6 0.6 0 1 0 1.2 0a0.6 0.6 0 1 0 -1.2 0M321.6 492.7a0.7 0.7 0 1 0 1.4 0a0.7 0.7 0 1 0 -1.4 0M334.4 583.3a0.7 0.7 0 1 0 1.4 0a0.7 0.7 0 1 0 -1.4 0M318.7 506.2a0.8 0.8 0 1 0 1.6 0a0.8 0.8 0 1 0 -1.6 0M308.3 498.3a0.7 0.7 0 1 0 1.4 0a0.7 0.7 0 1 0 -1.4 0M272.7 585.9a0.6 0.6 0 1 0 1.2 0a0.6 0.6 0 1 0 -1.2 0M301.3 516.4a0.8 0.8 0 1 0 1.6 0a0.8 0.8 0 1 0 -1.6 0M327.8 536.1a0.7 0.7 0 1 0 1.4 0a0.7 0.7 0 1 0 -1.4 0M327.2 611.3a0.7 0.7 0 1 0 1.4 0a0.7 0.7 0 1 0 -1.4 0M344.2 551.7a0.8 0.8 0 1 0 1.6 0a0.8 0.8 0 1 0 -1.6 0M306.4 608.1a0.6 0.6 0 1 0 1.2 0a0.6 0.6 0 1 0 -1.2 0M283.4 524.1a0.8 0.8 0 1 0 1.6 0a0.8 0.8 0 1 0 -1.6 0M298.9 598.2a0.8 0.8 0 1 0 1.6 0a0.8 0.8 0 1 0 -1.6 0M298.7 547.0a0.6 0.6 0 1 0 1.2 0a0.6 0.6 0 1 0 -1.2 0M271.8 537.3a0.7 0.7 0 1 0 1.4 0a0.7 0.7 0 1 0 -1.4 0M322.5 650.2a0.7 0.7 0 1 0 1.4 0a0.7 0.7 0 1 0 -1.4 0M306.0 538.1a0.8 0.8 0 1 0 1.6 0a0.8 0.8 0 1 0 -1.6 0M337.6 550.8a0.7 0.7 0 1 0 1.4 0a0.7 0.7 0 1 0 -1.4 0M291.0 591.5a0.7 0.7 0 1 0 1.4 0a0.7 0.7 0 1 0 -1.4 0M287.9 611.8a0.6 0.6 0 1 0 1.2 0a0.6 0.6 0 1 0 -1.2 0M280.9 609.1a0.7 0.7 0 1 0 1.4 0a0.7 0.7 0 1 0 -1.4 0M297.4 586.4a0.7 0.7 0 1 0 1.4 0a0.7 0.7 0 1 0 -1.4 0M341.2 607.4a0.6 0.6 0 1 0 1.2 0a0.6 0.6 0 1 0 -1.2 0" fill="#555"/>
<circle cx="361.2" cy="567.5" r="96" fill="none" stroke="#111" stroke-width="1.7"/>
<line x1="348" y1="472.4" x2="348" y2="662.6" stroke="#111" stroke-width="2"/>
<g transform="translate(259.8,0)" stroke="#111" stroke-width="1.2" fill="#fff" stroke-linejoin="round">
<rect x="89.6" y="512.3" width="19.6" height="98.6"/>
<path d="M109.2 538.1 C122 536 140 530 152.2 522 C152 512 152.3 503 153.3 498.5 C154.5 494 160.5 494 161.3 499.5 C162.2 508 162 520 161.3 527.7 C160.5 532 158 533.5 155 534.5 C145 537.5 133 540 124 546.6 C119.5 550 118.2 553 118.2 557 L118.2 595.7 C118.2 600 120 601.3 124 601.3 L147.5 599.5 L158 603 L157.5 607.8 C150 610.8 138 612.8 129.5 612.6 C120 611.5 113 606 109.2 601.3 Z"/>
<ellipse cx="150.3" cy="592.8" rx="3.6" ry="7.3" transform="rotate(22 150.3 592.8)"/>
<ellipse cx="160" cy="594.5" rx="4.6" ry="12.6" transform="rotate(8 160 594.5)"/>
<ellipse cx="160.6" cy="594.7" rx="2.6" ry="11" transform="rotate(8 160.6 594.7)" fill="none" stroke-width="0.9"/>
</g>
<g stroke="#333" stroke-width="0.8" fill="#fff" stroke-linejoin="round">
<path d="M300.4 563.2 L348.0 563.2 L348.0 576.8 L300.4 576.8"/>
<rect x="346.4" y="562.3" width="4.6" height="15.4" rx="1.8"/>
<path d="M347.8 563.7 L347.8 576.3" fill="none" stroke-width="0.6"/>
<path d="M300.4 563.2 Q296.8 559.6 293.2 561.1 Q289.6 559.6 286.1 561.1 Q282.5 559.6 278.9 561.1 Q275.3 559.6 271.7 561.1 Q266.7 562.3 266.7 570 Q266.7 577.7 271.7 578.9 Q275.3 580.4 278.9 579.2 Q282.5 580.4 286.1 579.2 Q289.6 580.4 293.2 579.2 Q296.8 580.4 300.4 576.8"/>
<path d="M293.2 561.1 Q294.4 570 293.2 578.9 M286.1 561.1 Q287.3 570 286.1 578.9 M278.9 561.1 Q280.1 570 278.9 578.9 M271.7 561.1 Q272.9 570 271.7 578.9 " fill="none" stroke-width="0.7"/>
<path d="M268.7 570 L300.4 570 M286.1 567 L293.2 567 M278.9 573 L286.1 573" fill="none" stroke-width="0.6"/>
<path d="M298.4 569.1 L318.1 569.1 Q319.3 570 318.1 570.9 L298.4 570.9" fill="none" stroke-width="0.7"/>
<path d="M304.6 564.0 L305.6 560.6 L313.9 559.6 L313.9 563.0 Z M304.6 576.0 L305.6 579.4 L313.9 580.4 L313.9 577.0 Z"/>
</g>
<path d="M270 570 L276 568 L280 572 L284 568 L288 572 L292 568 L296 572 L300 568 L304 572 L308 568 L312 571" fill="none" stroke="#555" stroke-width="0.7"/>
<g stroke="#555" stroke-width="0.8" fill="#fff">
<path d="M350 563.5 Q352 566 355 566 L365 566 Q368 562 372 561 Q376.5 562 376.5 570 Q376.5 578 372 579 Q368 578 365 574.5 L355 574.5 Q352 574.5 350 577 Z"/>
<path d="M356 564.5 Q353.5 570 356 576 Q358.5 570 356 564.5 M359.5 564.5 Q357 570 359.5 576 Q362 570 359.5 564.5 M363 564.5 Q360.5 570 363 576 Q365.5 570 363 564.5 M366.5 563.5 Q364 570 366.5 577" fill="none" stroke-width="0.7"/>
<path d="M373.5 562 Q375 570 373.5 578" fill="none" stroke-width="0.6"/>
</g>
<line x1="348" y1="555" x2="348" y2="585" stroke="#111" stroke-width="2"/>
<text x="35.2" y="420.8" font-size="16" fill="#111" stroke="#111" stroke-width="0.45" textLength="50.6" lengthAdjust="spacing">Step 1</text>
<text x="322" y="420.8" font-size="16" fill="#111" stroke="#111" stroke-width="0.45" textLength="50.6" lengthAdjust="spacing">Step 2</text>
<text x="569.8" y="420.8" font-size="16" fill="#111" stroke="#111" stroke-width="0.45" textLength="50.6" lengthAdjust="spacing">Step 3</text>
<text x="76.9" y="684.2" font-size="16" fill="#111" stroke="#111" stroke-width="0.45" textLength="50.6" lengthAdjust="spacing">Step 4</text>
<text x="340.6" y="684.2" font-size="16" fill="#111" stroke="#111" stroke-width="0.45" textLength="50.6" lengthAdjust="spacing">Step 5</text>
</svg>
</body></html>
